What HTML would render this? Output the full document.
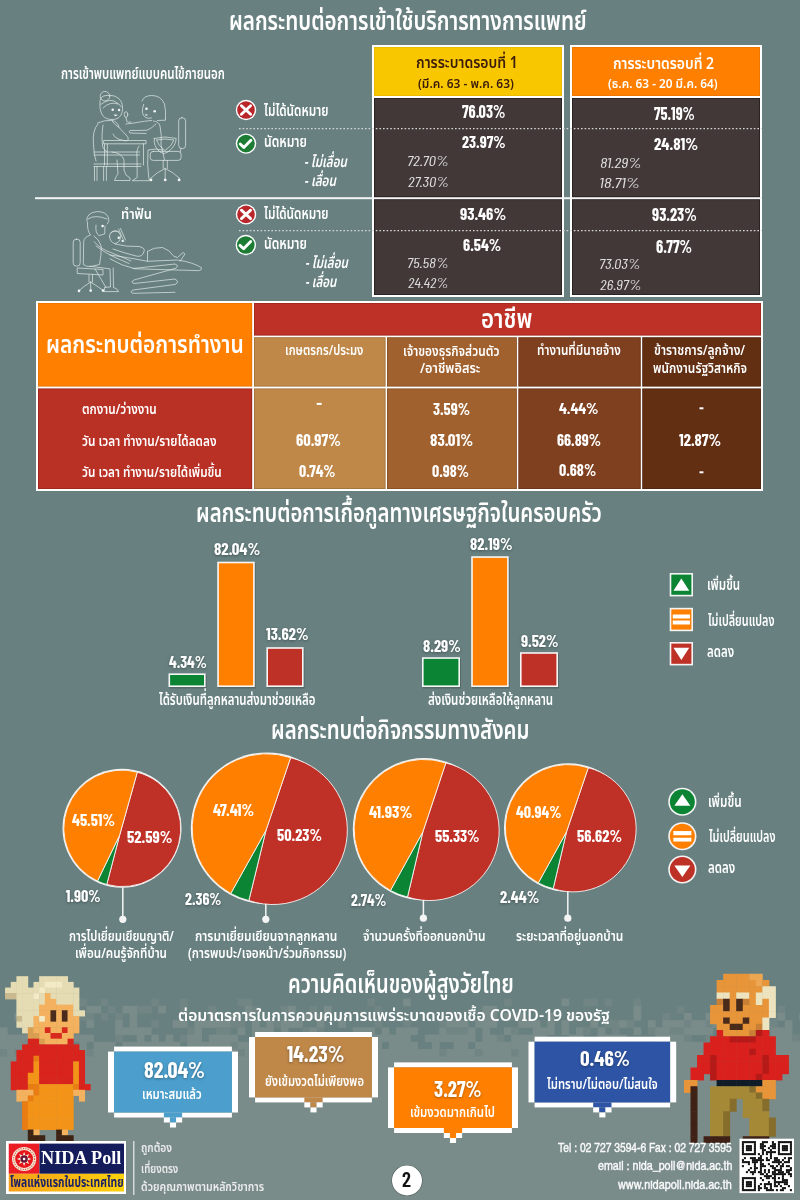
<!DOCTYPE html>
<html lang="th"><head><meta charset="utf-8"><title>ผลกระทบ COVID-19 ต่อผู้สูงวัยไทย</title>
<style>
html,body{margin:0;padding:0}
body{width:800px;height:1200px;overflow:hidden;position:relative;background:#688080}
.t{position:absolute;white-space:nowrap;line-height:1;transform-origin:0 0}
.th{font-family:'Noto Sans Thai','Noto Sans Thai UI',sans-serif}
.thi{font-family:'Noto Sans Thai','Noto Sans Thai UI',sans-serif;font-style:italic}
.num{font-family:'Barlow Condensed','Noto Sans Thai','Liberation Sans Narrow',sans-serif}
.numi{font-family:'Barlow Condensed','Noto Sans Thai','Liberation Sans Narrow',sans-serif;font-style:italic}
.lat{font-family:'TeX Gyre Heros Cn','Roboto Condensed','Liberation Sans Narrow','Liberation Sans',Arial,sans-serif;-webkit-text-stroke:0.3px #fafafa}
.ser{font-family:'Liberation Serif','DejaVu Serif',serif}
.sh{text-shadow:0 1px 3px rgba(0,0,0,.35)}
</style></head>
<body>
<svg width="800" height="1200" viewBox="0 0 800 1200" style="position:absolute;left:0;top:0"><rect x="0.00" y="0.00" width="800.00" height="1200.00" fill="#688080" />
<rect x="0.00" y="1055.00" width="800.00" height="145.00" fill="#7a8c8a" />
<rect x="21.60" y="998.60" width="7.60" height="7.60" fill="#718684" />
<rect x="43.20" y="998.60" width="7.60" height="7.60" fill="#718684" />
<rect x="57.60" y="998.60" width="7.60" height="7.60" fill="#7a8c8a" />
<rect x="72.00" y="998.60" width="7.60" height="7.60" fill="#718684" />
<rect x="79.20" y="998.60" width="7.60" height="7.60" fill="#718684" />
<rect x="100.80" y="998.60" width="7.60" height="7.60" fill="#718684" />
<rect x="151.20" y="998.60" width="7.60" height="7.60" fill="#718684" />
<rect x="180.00" y="998.60" width="7.60" height="7.60" fill="#718684" />
<rect x="237.60" y="998.60" width="7.60" height="7.60" fill="#718684" />
<rect x="244.80" y="998.60" width="7.60" height="7.60" fill="#718684" />
<rect x="367.20" y="998.60" width="7.60" height="7.60" fill="#718684" />
<rect x="403.20" y="998.60" width="7.60" height="7.60" fill="#7a8c8a" />
<rect x="504.00" y="998.60" width="7.60" height="7.60" fill="#718684" />
<rect x="561.60" y="998.60" width="7.60" height="7.60" fill="#7a8c8a" />
<rect x="583.20" y="998.60" width="7.60" height="7.60" fill="#718684" />
<rect x="590.40" y="998.60" width="7.60" height="7.60" fill="#718684" />
<rect x="604.80" y="998.60" width="7.60" height="7.60" fill="#718684" />
<rect x="633.60" y="998.60" width="7.60" height="7.60" fill="#718684" />
<rect x="763.20" y="998.60" width="7.60" height="7.60" fill="#7a8c8a" />
<rect x="21.60" y="1005.80" width="7.60" height="7.60" fill="#7a8c8a" />
<rect x="72.00" y="1005.80" width="7.60" height="7.60" fill="#718684" />
<rect x="86.40" y="1005.80" width="7.60" height="7.60" fill="#7a8c8a" />
<rect x="93.60" y="1005.80" width="7.60" height="7.60" fill="#7a8c8a" />
<rect x="108.00" y="1005.80" width="7.60" height="7.60" fill="#718684" />
<rect x="122.40" y="1005.80" width="7.60" height="7.60" fill="#7a8c8a" />
<rect x="129.60" y="1005.80" width="7.60" height="7.60" fill="#7a8c8a" />
<rect x="136.80" y="1005.80" width="7.60" height="7.60" fill="#718684" />
<rect x="144.00" y="1005.80" width="7.60" height="7.60" fill="#718684" />
<rect x="158.40" y="1005.80" width="7.60" height="7.60" fill="#7a8c8a" />
<rect x="180.00" y="1005.80" width="7.60" height="7.60" fill="#718684" />
<rect x="208.80" y="1005.80" width="7.60" height="7.60" fill="#718684" />
<rect x="244.80" y="1005.80" width="7.60" height="7.60" fill="#7a8c8a" />
<rect x="252.00" y="1005.80" width="7.60" height="7.60" fill="#718684" />
<rect x="280.80" y="1005.80" width="7.60" height="7.60" fill="#718684" />
<rect x="288.00" y="1005.80" width="7.60" height="7.60" fill="#7a8c8a" />
<rect x="309.60" y="1005.80" width="7.60" height="7.60" fill="#718684" />
<rect x="324.00" y="1005.80" width="7.60" height="7.60" fill="#7a8c8a" />
<rect x="374.40" y="1005.80" width="7.60" height="7.60" fill="#718684" />
<rect x="482.40" y="1005.80" width="7.60" height="7.60" fill="#7a8c8a" />
<rect x="489.60" y="1005.80" width="7.60" height="7.60" fill="#7a8c8a" />
<rect x="633.60" y="1005.80" width="7.60" height="7.60" fill="#7a8c8a" />
<rect x="676.80" y="1005.80" width="7.60" height="7.60" fill="#718684" />
<rect x="741.60" y="1005.80" width="7.60" height="7.60" fill="#718684" />
<rect x="748.80" y="1005.80" width="7.60" height="7.60" fill="#718684" />
<rect x="756.00" y="1005.80" width="7.60" height="7.60" fill="#718684" />
<rect x="777.60" y="1005.80" width="7.60" height="7.60" fill="#718684" />
<rect x="14.40" y="1013.00" width="7.60" height="7.60" fill="#7a8c8a" />
<rect x="21.60" y="1013.00" width="7.60" height="7.60" fill="#7a8c8a" />
<rect x="79.20" y="1013.00" width="7.60" height="7.60" fill="#718684" />
<rect x="86.40" y="1013.00" width="7.60" height="7.60" fill="#718684" />
<rect x="100.80" y="1013.00" width="7.60" height="7.60" fill="#718684" />
<rect x="115.20" y="1013.00" width="7.60" height="7.60" fill="#718684" />
<rect x="129.60" y="1013.00" width="7.60" height="7.60" fill="#7a8c8a" />
<rect x="208.80" y="1013.00" width="7.60" height="7.60" fill="#7a8c8a" />
<rect x="223.20" y="1013.00" width="7.60" height="7.60" fill="#718684" />
<rect x="230.40" y="1013.00" width="7.60" height="7.60" fill="#7a8c8a" />
<rect x="244.80" y="1013.00" width="7.60" height="7.60" fill="#718684" />
<rect x="302.40" y="1013.00" width="7.60" height="7.60" fill="#7a8c8a" />
<rect x="316.80" y="1013.00" width="7.60" height="7.60" fill="#718684" />
<rect x="453.60" y="1013.00" width="7.60" height="7.60" fill="#718684" />
<rect x="482.40" y="1013.00" width="7.60" height="7.60" fill="#7a8c8a" />
<rect x="489.60" y="1013.00" width="7.60" height="7.60" fill="#7a8c8a" />
<rect x="504.00" y="1013.00" width="7.60" height="7.60" fill="#7a8c8a" />
<rect x="511.20" y="1013.00" width="7.60" height="7.60" fill="#718684" />
<rect x="518.40" y="1013.00" width="7.60" height="7.60" fill="#7a8c8a" />
<rect x="547.20" y="1013.00" width="7.60" height="7.60" fill="#7a8c8a" />
<rect x="568.80" y="1013.00" width="7.60" height="7.60" fill="#7a8c8a" />
<rect x="590.40" y="1013.00" width="7.60" height="7.60" fill="#718684" />
<rect x="633.60" y="1013.00" width="7.60" height="7.60" fill="#7a8c8a" />
<rect x="662.40" y="1013.00" width="7.60" height="7.60" fill="#718684" />
<rect x="684.00" y="1013.00" width="7.60" height="7.60" fill="#7a8c8a" />
<rect x="705.60" y="1013.00" width="7.60" height="7.60" fill="#7a8c8a" />
<rect x="734.40" y="1013.00" width="7.60" height="7.60" fill="#7a8c8a" />
<rect x="763.20" y="1013.00" width="7.60" height="7.60" fill="#7a8c8a" />
<rect x="770.40" y="1013.00" width="7.60" height="7.60" fill="#718684" />
<rect x="777.60" y="1013.00" width="7.60" height="7.60" fill="#7a8c8a" />
<rect x="799.20" y="1013.00" width="7.60" height="7.60" fill="#7a8c8a" />
<rect x="21.60" y="1020.20" width="7.60" height="7.60" fill="#7a8c8a" />
<rect x="28.80" y="1020.20" width="7.60" height="7.60" fill="#7a8c8a" />
<rect x="57.60" y="1020.20" width="7.60" height="7.60" fill="#7a8c8a" />
<rect x="64.80" y="1020.20" width="7.60" height="7.60" fill="#7a8c8a" />
<rect x="86.40" y="1020.20" width="7.60" height="7.60" fill="#7a8c8a" />
<rect x="115.20" y="1020.20" width="7.60" height="7.60" fill="#7a8c8a" />
<rect x="129.60" y="1020.20" width="7.60" height="7.60" fill="#7a8c8a" />
<rect x="151.20" y="1020.20" width="7.60" height="7.60" fill="#718684" />
<rect x="172.80" y="1020.20" width="7.60" height="7.60" fill="#7a8c8a" />
<rect x="180.00" y="1020.20" width="7.60" height="7.60" fill="#7a8c8a" />
<rect x="194.40" y="1020.20" width="7.60" height="7.60" fill="#7a8c8a" />
<rect x="201.60" y="1020.20" width="7.60" height="7.60" fill="#7a8c8a" />
<rect x="208.80" y="1020.20" width="7.60" height="7.60" fill="#7a8c8a" />
<rect x="216.00" y="1020.20" width="7.60" height="7.60" fill="#7a8c8a" />
<rect x="223.20" y="1020.20" width="7.60" height="7.60" fill="#7a8c8a" />
<rect x="230.40" y="1020.20" width="7.60" height="7.60" fill="#718684" />
<rect x="237.60" y="1020.20" width="7.60" height="7.60" fill="#718684" />
<rect x="252.00" y="1020.20" width="7.60" height="7.60" fill="#7a8c8a" />
<rect x="266.40" y="1020.20" width="7.60" height="7.60" fill="#7a8c8a" />
<rect x="273.60" y="1020.20" width="7.60" height="7.60" fill="#718684" />
<rect x="280.80" y="1020.20" width="7.60" height="7.60" fill="#7a8c8a" />
<rect x="288.00" y="1020.20" width="7.60" height="7.60" fill="#7a8c8a" />
<rect x="295.20" y="1020.20" width="7.60" height="7.60" fill="#7a8c8a" />
<rect x="316.80" y="1020.20" width="7.60" height="7.60" fill="#7a8c8a" />
<rect x="338.40" y="1020.20" width="7.60" height="7.60" fill="#7a8c8a" />
<rect x="374.40" y="1020.20" width="7.60" height="7.60" fill="#718684" />
<rect x="403.20" y="1020.20" width="7.60" height="7.60" fill="#718684" />
<rect x="439.20" y="1020.20" width="7.60" height="7.60" fill="#718684" />
<rect x="446.40" y="1020.20" width="7.60" height="7.60" fill="#7a8c8a" />
<rect x="453.60" y="1020.20" width="7.60" height="7.60" fill="#7a8c8a" />
<rect x="460.80" y="1020.20" width="7.60" height="7.60" fill="#7a8c8a" />
<rect x="475.20" y="1020.20" width="7.60" height="7.60" fill="#7a8c8a" />
<rect x="482.40" y="1020.20" width="7.60" height="7.60" fill="#7a8c8a" />
<rect x="489.60" y="1020.20" width="7.60" height="7.60" fill="#7a8c8a" />
<rect x="518.40" y="1020.20" width="7.60" height="7.60" fill="#7a8c8a" />
<rect x="525.60" y="1020.20" width="7.60" height="7.60" fill="#7a8c8a" />
<rect x="532.80" y="1020.20" width="7.60" height="7.60" fill="#7a8c8a" />
<rect x="547.20" y="1020.20" width="7.60" height="7.60" fill="#7a8c8a" />
<rect x="561.60" y="1020.20" width="7.60" height="7.60" fill="#7a8c8a" />
<rect x="590.40" y="1020.20" width="7.60" height="7.60" fill="#7a8c8a" />
<rect x="604.80" y="1020.20" width="7.60" height="7.60" fill="#718684" />
<rect x="612.00" y="1020.20" width="7.60" height="7.60" fill="#718684" />
<rect x="619.20" y="1020.20" width="7.60" height="7.60" fill="#7a8c8a" />
<rect x="626.40" y="1020.20" width="7.60" height="7.60" fill="#718684" />
<rect x="648.00" y="1020.20" width="7.60" height="7.60" fill="#7a8c8a" />
<rect x="662.40" y="1020.20" width="7.60" height="7.60" fill="#7a8c8a" />
<rect x="669.60" y="1020.20" width="7.60" height="7.60" fill="#7a8c8a" />
<rect x="676.80" y="1020.20" width="7.60" height="7.60" fill="#7a8c8a" />
<rect x="684.00" y="1020.20" width="7.60" height="7.60" fill="#718684" />
<rect x="691.20" y="1020.20" width="7.60" height="7.60" fill="#7a8c8a" />
<rect x="698.40" y="1020.20" width="7.60" height="7.60" fill="#7a8c8a" />
<rect x="705.60" y="1020.20" width="7.60" height="7.60" fill="#718684" />
<rect x="712.80" y="1020.20" width="7.60" height="7.60" fill="#7a8c8a" />
<rect x="763.20" y="1020.20" width="7.60" height="7.60" fill="#718684" />
<rect x="770.40" y="1020.20" width="7.60" height="7.60" fill="#718684" />
<rect x="784.80" y="1020.20" width="7.60" height="7.60" fill="#7a8c8a" />
<rect x="0.00" y="1027.40" width="7.60" height="7.60" fill="#7a8c8a" />
<rect x="43.20" y="1027.40" width="7.60" height="7.60" fill="#7a8c8a" />
<rect x="50.40" y="1027.40" width="7.60" height="7.60" fill="#718684" />
<rect x="57.60" y="1027.40" width="7.60" height="7.60" fill="#718684" />
<rect x="115.20" y="1027.40" width="7.60" height="7.60" fill="#7a8c8a" />
<rect x="122.40" y="1027.40" width="7.60" height="7.60" fill="#7a8c8a" />
<rect x="129.60" y="1027.40" width="7.60" height="7.60" fill="#7a8c8a" />
<rect x="136.80" y="1027.40" width="7.60" height="7.60" fill="#7a8c8a" />
<rect x="144.00" y="1027.40" width="7.60" height="7.60" fill="#7a8c8a" />
<rect x="187.20" y="1027.40" width="7.60" height="7.60" fill="#718684" />
<rect x="194.40" y="1027.40" width="7.60" height="7.60" fill="#7a8c8a" />
<rect x="216.00" y="1027.40" width="7.60" height="7.60" fill="#718684" />
<rect x="223.20" y="1027.40" width="7.60" height="7.60" fill="#718684" />
<rect x="237.60" y="1027.40" width="7.60" height="7.60" fill="#7a8c8a" />
<rect x="252.00" y="1027.40" width="7.60" height="7.60" fill="#7a8c8a" />
<rect x="259.20" y="1027.40" width="7.60" height="7.60" fill="#7a8c8a" />
<rect x="266.40" y="1027.40" width="7.60" height="7.60" fill="#7a8c8a" />
<rect x="280.80" y="1027.40" width="7.60" height="7.60" fill="#7a8c8a" />
<rect x="302.40" y="1027.40" width="7.60" height="7.60" fill="#718684" />
<rect x="309.60" y="1027.40" width="7.60" height="7.60" fill="#7a8c8a" />
<rect x="316.80" y="1027.40" width="7.60" height="7.60" fill="#718684" />
<rect x="352.80" y="1027.40" width="7.60" height="7.60" fill="#7a8c8a" />
<rect x="360.00" y="1027.40" width="7.60" height="7.60" fill="#7a8c8a" />
<rect x="367.20" y="1027.40" width="7.60" height="7.60" fill="#7a8c8a" />
<rect x="381.60" y="1027.40" width="7.60" height="7.60" fill="#7a8c8a" />
<rect x="396.00" y="1027.40" width="7.60" height="7.60" fill="#7a8c8a" />
<rect x="403.20" y="1027.40" width="7.60" height="7.60" fill="#7a8c8a" />
<rect x="410.40" y="1027.40" width="7.60" height="7.60" fill="#7a8c8a" />
<rect x="439.20" y="1027.40" width="7.60" height="7.60" fill="#7a8c8a" />
<rect x="446.40" y="1027.40" width="7.60" height="7.60" fill="#718684" />
<rect x="453.60" y="1027.40" width="7.60" height="7.60" fill="#718684" />
<rect x="460.80" y="1027.40" width="7.60" height="7.60" fill="#718684" />
<rect x="468.00" y="1027.40" width="7.60" height="7.60" fill="#7a8c8a" />
<rect x="482.40" y="1027.40" width="7.60" height="7.60" fill="#7a8c8a" />
<rect x="504.00" y="1027.40" width="7.60" height="7.60" fill="#7a8c8a" />
<rect x="511.20" y="1027.40" width="7.60" height="7.60" fill="#718684" />
<rect x="532.80" y="1027.40" width="7.60" height="7.60" fill="#7a8c8a" />
<rect x="540.00" y="1027.40" width="7.60" height="7.60" fill="#7a8c8a" />
<rect x="547.20" y="1027.40" width="7.60" height="7.60" fill="#7a8c8a" />
<rect x="561.60" y="1027.40" width="7.60" height="7.60" fill="#7a8c8a" />
<rect x="576.00" y="1027.40" width="7.60" height="7.60" fill="#7a8c8a" />
<rect x="583.20" y="1027.40" width="7.60" height="7.60" fill="#718684" />
<rect x="597.60" y="1027.40" width="7.60" height="7.60" fill="#7a8c8a" />
<rect x="612.00" y="1027.40" width="7.60" height="7.60" fill="#718684" />
<rect x="633.60" y="1027.40" width="7.60" height="7.60" fill="#7a8c8a" />
<rect x="648.00" y="1027.40" width="7.60" height="7.60" fill="#718684" />
<rect x="655.20" y="1027.40" width="7.60" height="7.60" fill="#7a8c8a" />
<rect x="662.40" y="1027.40" width="7.60" height="7.60" fill="#7a8c8a" />
<rect x="669.60" y="1027.40" width="7.60" height="7.60" fill="#718684" />
<rect x="676.80" y="1027.40" width="7.60" height="7.60" fill="#718684" />
<rect x="684.00" y="1027.40" width="7.60" height="7.60" fill="#7a8c8a" />
<rect x="691.20" y="1027.40" width="7.60" height="7.60" fill="#7a8c8a" />
<rect x="698.40" y="1027.40" width="7.60" height="7.60" fill="#7a8c8a" />
<rect x="705.60" y="1027.40" width="7.60" height="7.60" fill="#7a8c8a" />
<rect x="720.00" y="1027.40" width="7.60" height="7.60" fill="#7a8c8a" />
<rect x="741.60" y="1027.40" width="7.60" height="7.60" fill="#7a8c8a" />
<rect x="770.40" y="1027.40" width="7.60" height="7.60" fill="#7a8c8a" />
<rect x="777.60" y="1027.40" width="7.60" height="7.60" fill="#7a8c8a" />
<rect x="784.80" y="1027.40" width="7.60" height="7.60" fill="#7a8c8a" />
<rect x="0.00" y="1034.60" width="7.60" height="7.60" fill="#7a8c8a" />
<rect x="7.20" y="1034.60" width="7.60" height="7.60" fill="#7a8c8a" />
<rect x="14.40" y="1034.60" width="7.60" height="7.60" fill="#7a8c8a" />
<rect x="21.60" y="1034.60" width="7.60" height="7.60" fill="#7a8c8a" />
<rect x="28.80" y="1034.60" width="7.60" height="7.60" fill="#7a8c8a" />
<rect x="43.20" y="1034.60" width="7.60" height="7.60" fill="#7a8c8a" />
<rect x="57.60" y="1034.60" width="7.60" height="7.60" fill="#7a8c8a" />
<rect x="64.80" y="1034.60" width="7.60" height="7.60" fill="#7a8c8a" />
<rect x="72.00" y="1034.60" width="7.60" height="7.60" fill="#7a8c8a" />
<rect x="79.20" y="1034.60" width="7.60" height="7.60" fill="#7a8c8a" />
<rect x="86.40" y="1034.60" width="7.60" height="7.60" fill="#7a8c8a" />
<rect x="115.20" y="1034.60" width="7.60" height="7.60" fill="#718684" />
<rect x="136.80" y="1034.60" width="7.60" height="7.60" fill="#7a8c8a" />
<rect x="151.20" y="1034.60" width="7.60" height="7.60" fill="#7a8c8a" />
<rect x="165.60" y="1034.60" width="7.60" height="7.60" fill="#7a8c8a" />
<rect x="180.00" y="1034.60" width="7.60" height="7.60" fill="#718684" />
<rect x="187.20" y="1034.60" width="7.60" height="7.60" fill="#7a8c8a" />
<rect x="194.40" y="1034.60" width="7.60" height="7.60" fill="#7a8c8a" />
<rect x="208.80" y="1034.60" width="7.60" height="7.60" fill="#7a8c8a" />
<rect x="216.00" y="1034.60" width="7.60" height="7.60" fill="#7a8c8a" />
<rect x="223.20" y="1034.60" width="7.60" height="7.60" fill="#7a8c8a" />
<rect x="230.40" y="1034.60" width="7.60" height="7.60" fill="#7a8c8a" />
<rect x="252.00" y="1034.60" width="7.60" height="7.60" fill="#7a8c8a" />
<rect x="259.20" y="1034.60" width="7.60" height="7.60" fill="#718684" />
<rect x="266.40" y="1034.60" width="7.60" height="7.60" fill="#7a8c8a" />
<rect x="273.60" y="1034.60" width="7.60" height="7.60" fill="#7a8c8a" />
<rect x="280.80" y="1034.60" width="7.60" height="7.60" fill="#7a8c8a" />
<rect x="288.00" y="1034.60" width="7.60" height="7.60" fill="#7a8c8a" />
<rect x="295.20" y="1034.60" width="7.60" height="7.60" fill="#7a8c8a" />
<rect x="302.40" y="1034.60" width="7.60" height="7.60" fill="#7a8c8a" />
<rect x="316.80" y="1034.60" width="7.60" height="7.60" fill="#7a8c8a" />
<rect x="324.00" y="1034.60" width="7.60" height="7.60" fill="#7a8c8a" />
<rect x="345.60" y="1034.60" width="7.60" height="7.60" fill="#7a8c8a" />
<rect x="352.80" y="1034.60" width="7.60" height="7.60" fill="#7a8c8a" />
<rect x="360.00" y="1034.60" width="7.60" height="7.60" fill="#7a8c8a" />
<rect x="367.20" y="1034.60" width="7.60" height="7.60" fill="#7a8c8a" />
<rect x="374.40" y="1034.60" width="7.60" height="7.60" fill="#7a8c8a" />
<rect x="381.60" y="1034.60" width="7.60" height="7.60" fill="#7a8c8a" />
<rect x="388.80" y="1034.60" width="7.60" height="7.60" fill="#7a8c8a" />
<rect x="396.00" y="1034.60" width="7.60" height="7.60" fill="#7a8c8a" />
<rect x="403.20" y="1034.60" width="7.60" height="7.60" fill="#7a8c8a" />
<rect x="424.80" y="1034.60" width="7.60" height="7.60" fill="#7a8c8a" />
<rect x="432.00" y="1034.60" width="7.60" height="7.60" fill="#7a8c8a" />
<rect x="439.20" y="1034.60" width="7.60" height="7.60" fill="#7a8c8a" />
<rect x="446.40" y="1034.60" width="7.60" height="7.60" fill="#7a8c8a" />
<rect x="453.60" y="1034.60" width="7.60" height="7.60" fill="#7a8c8a" />
<rect x="460.80" y="1034.60" width="7.60" height="7.60" fill="#7a8c8a" />
<rect x="468.00" y="1034.60" width="7.60" height="7.60" fill="#7a8c8a" />
<rect x="482.40" y="1034.60" width="7.60" height="7.60" fill="#7a8c8a" />
<rect x="489.60" y="1034.60" width="7.60" height="7.60" fill="#7a8c8a" />
<rect x="496.80" y="1034.60" width="7.60" height="7.60" fill="#718684" />
<rect x="511.20" y="1034.60" width="7.60" height="7.60" fill="#7a8c8a" />
<rect x="518.40" y="1034.60" width="7.60" height="7.60" fill="#7a8c8a" />
<rect x="525.60" y="1034.60" width="7.60" height="7.60" fill="#7a8c8a" />
<rect x="532.80" y="1034.60" width="7.60" height="7.60" fill="#7a8c8a" />
<rect x="540.00" y="1034.60" width="7.60" height="7.60" fill="#7a8c8a" />
<rect x="568.80" y="1034.60" width="7.60" height="7.60" fill="#7a8c8a" />
<rect x="576.00" y="1034.60" width="7.60" height="7.60" fill="#7a8c8a" />
<rect x="597.60" y="1034.60" width="7.60" height="7.60" fill="#7a8c8a" />
<rect x="604.80" y="1034.60" width="7.60" height="7.60" fill="#7a8c8a" />
<rect x="612.00" y="1034.60" width="7.60" height="7.60" fill="#7a8c8a" />
<rect x="619.20" y="1034.60" width="7.60" height="7.60" fill="#7a8c8a" />
<rect x="655.20" y="1034.60" width="7.60" height="7.60" fill="#7a8c8a" />
<rect x="662.40" y="1034.60" width="7.60" height="7.60" fill="#7a8c8a" />
<rect x="669.60" y="1034.60" width="7.60" height="7.60" fill="#7a8c8a" />
<rect x="676.80" y="1034.60" width="7.60" height="7.60" fill="#7a8c8a" />
<rect x="684.00" y="1034.60" width="7.60" height="7.60" fill="#718684" />
<rect x="705.60" y="1034.60" width="7.60" height="7.60" fill="#718684" />
<rect x="720.00" y="1034.60" width="7.60" height="7.60" fill="#7a8c8a" />
<rect x="727.20" y="1034.60" width="7.60" height="7.60" fill="#7a8c8a" />
<rect x="734.40" y="1034.60" width="7.60" height="7.60" fill="#7a8c8a" />
<rect x="748.80" y="1034.60" width="7.60" height="7.60" fill="#7a8c8a" />
<rect x="763.20" y="1034.60" width="7.60" height="7.60" fill="#718684" />
<rect x="770.40" y="1034.60" width="7.60" height="7.60" fill="#7a8c8a" />
<rect x="777.60" y="1034.60" width="7.60" height="7.60" fill="#7a8c8a" />
<rect x="784.80" y="1034.60" width="7.60" height="7.60" fill="#7a8c8a" />
<rect x="792.00" y="1034.60" width="7.60" height="7.60" fill="#718684" />
<rect x="799.20" y="1034.60" width="7.60" height="7.60" fill="#718684" />
<rect x="0.00" y="1041.80" width="7.60" height="7.60" fill="#7a8c8a" />
<rect x="7.20" y="1041.80" width="7.60" height="7.60" fill="#7a8c8a" />
<rect x="14.40" y="1041.80" width="7.60" height="7.60" fill="#7a8c8a" />
<rect x="21.60" y="1041.80" width="7.60" height="7.60" fill="#7a8c8a" />
<rect x="28.80" y="1041.80" width="7.60" height="7.60" fill="#7a8c8a" />
<rect x="36.00" y="1041.80" width="7.60" height="7.60" fill="#7a8c8a" />
<rect x="43.20" y="1041.80" width="7.60" height="7.60" fill="#7a8c8a" />
<rect x="50.40" y="1041.80" width="7.60" height="7.60" fill="#7a8c8a" />
<rect x="57.60" y="1041.80" width="7.60" height="7.60" fill="#7a8c8a" />
<rect x="64.80" y="1041.80" width="7.60" height="7.60" fill="#7a8c8a" />
<rect x="79.20" y="1041.80" width="7.60" height="7.60" fill="#7a8c8a" />
<rect x="93.60" y="1041.80" width="7.60" height="7.60" fill="#7a8c8a" />
<rect x="100.80" y="1041.80" width="7.60" height="7.60" fill="#7a8c8a" />
<rect x="108.00" y="1041.80" width="7.60" height="7.60" fill="#7a8c8a" />
<rect x="122.40" y="1041.80" width="7.60" height="7.60" fill="#7a8c8a" />
<rect x="129.60" y="1041.80" width="7.60" height="7.60" fill="#7a8c8a" />
<rect x="136.80" y="1041.80" width="7.60" height="7.60" fill="#7a8c8a" />
<rect x="144.00" y="1041.80" width="7.60" height="7.60" fill="#7a8c8a" />
<rect x="151.20" y="1041.80" width="7.60" height="7.60" fill="#7a8c8a" />
<rect x="158.40" y="1041.80" width="7.60" height="7.60" fill="#7a8c8a" />
<rect x="165.60" y="1041.80" width="7.60" height="7.60" fill="#7a8c8a" />
<rect x="172.80" y="1041.80" width="7.60" height="7.60" fill="#7a8c8a" />
<rect x="187.20" y="1041.80" width="7.60" height="7.60" fill="#7a8c8a" />
<rect x="194.40" y="1041.80" width="7.60" height="7.60" fill="#7a8c8a" />
<rect x="201.60" y="1041.80" width="7.60" height="7.60" fill="#7a8c8a" />
<rect x="208.80" y="1041.80" width="7.60" height="7.60" fill="#7a8c8a" />
<rect x="216.00" y="1041.80" width="7.60" height="7.60" fill="#7a8c8a" />
<rect x="223.20" y="1041.80" width="7.60" height="7.60" fill="#7a8c8a" />
<rect x="230.40" y="1041.80" width="7.60" height="7.60" fill="#718684" />
<rect x="237.60" y="1041.80" width="7.60" height="7.60" fill="#7a8c8a" />
<rect x="244.80" y="1041.80" width="7.60" height="7.60" fill="#7a8c8a" />
<rect x="252.00" y="1041.80" width="7.60" height="7.60" fill="#7a8c8a" />
<rect x="266.40" y="1041.80" width="7.60" height="7.60" fill="#7a8c8a" />
<rect x="273.60" y="1041.80" width="7.60" height="7.60" fill="#718684" />
<rect x="280.80" y="1041.80" width="7.60" height="7.60" fill="#7a8c8a" />
<rect x="288.00" y="1041.80" width="7.60" height="7.60" fill="#7a8c8a" />
<rect x="295.20" y="1041.80" width="7.60" height="7.60" fill="#7a8c8a" />
<rect x="302.40" y="1041.80" width="7.60" height="7.60" fill="#7a8c8a" />
<rect x="316.80" y="1041.80" width="7.60" height="7.60" fill="#7a8c8a" />
<rect x="324.00" y="1041.80" width="7.60" height="7.60" fill="#7a8c8a" />
<rect x="331.20" y="1041.80" width="7.60" height="7.60" fill="#7a8c8a" />
<rect x="338.40" y="1041.80" width="7.60" height="7.60" fill="#7a8c8a" />
<rect x="345.60" y="1041.80" width="7.60" height="7.60" fill="#7a8c8a" />
<rect x="360.00" y="1041.80" width="7.60" height="7.60" fill="#7a8c8a" />
<rect x="367.20" y="1041.80" width="7.60" height="7.60" fill="#7a8c8a" />
<rect x="374.40" y="1041.80" width="7.60" height="7.60" fill="#7a8c8a" />
<rect x="388.80" y="1041.80" width="7.60" height="7.60" fill="#7a8c8a" />
<rect x="396.00" y="1041.80" width="7.60" height="7.60" fill="#7a8c8a" />
<rect x="403.20" y="1041.80" width="7.60" height="7.60" fill="#7a8c8a" />
<rect x="410.40" y="1041.80" width="7.60" height="7.60" fill="#7a8c8a" />
<rect x="432.00" y="1041.80" width="7.60" height="7.60" fill="#7a8c8a" />
<rect x="453.60" y="1041.80" width="7.60" height="7.60" fill="#7a8c8a" />
<rect x="460.80" y="1041.80" width="7.60" height="7.60" fill="#7a8c8a" />
<rect x="475.20" y="1041.80" width="7.60" height="7.60" fill="#7a8c8a" />
<rect x="482.40" y="1041.80" width="7.60" height="7.60" fill="#7a8c8a" />
<rect x="489.60" y="1041.80" width="7.60" height="7.60" fill="#7a8c8a" />
<rect x="496.80" y="1041.80" width="7.60" height="7.60" fill="#7a8c8a" />
<rect x="504.00" y="1041.80" width="7.60" height="7.60" fill="#7a8c8a" />
<rect x="511.20" y="1041.80" width="7.60" height="7.60" fill="#7a8c8a" />
<rect x="518.40" y="1041.80" width="7.60" height="7.60" fill="#7a8c8a" />
<rect x="525.60" y="1041.80" width="7.60" height="7.60" fill="#7a8c8a" />
<rect x="532.80" y="1041.80" width="7.60" height="7.60" fill="#7a8c8a" />
<rect x="540.00" y="1041.80" width="7.60" height="7.60" fill="#7a8c8a" />
<rect x="554.40" y="1041.80" width="7.60" height="7.60" fill="#7a8c8a" />
<rect x="568.80" y="1041.80" width="7.60" height="7.60" fill="#7a8c8a" />
<rect x="576.00" y="1041.80" width="7.60" height="7.60" fill="#7a8c8a" />
<rect x="583.20" y="1041.80" width="7.60" height="7.60" fill="#718684" />
<rect x="590.40" y="1041.80" width="7.60" height="7.60" fill="#718684" />
<rect x="597.60" y="1041.80" width="7.60" height="7.60" fill="#7a8c8a" />
<rect x="604.80" y="1041.80" width="7.60" height="7.60" fill="#7a8c8a" />
<rect x="612.00" y="1041.80" width="7.60" height="7.60" fill="#7a8c8a" />
<rect x="619.20" y="1041.80" width="7.60" height="7.60" fill="#7a8c8a" />
<rect x="633.60" y="1041.80" width="7.60" height="7.60" fill="#7a8c8a" />
<rect x="640.80" y="1041.80" width="7.60" height="7.60" fill="#7a8c8a" />
<rect x="655.20" y="1041.80" width="7.60" height="7.60" fill="#7a8c8a" />
<rect x="662.40" y="1041.80" width="7.60" height="7.60" fill="#7a8c8a" />
<rect x="669.60" y="1041.80" width="7.60" height="7.60" fill="#718684" />
<rect x="676.80" y="1041.80" width="7.60" height="7.60" fill="#7a8c8a" />
<rect x="684.00" y="1041.80" width="7.60" height="7.60" fill="#7a8c8a" />
<rect x="691.20" y="1041.80" width="7.60" height="7.60" fill="#7a8c8a" />
<rect x="698.40" y="1041.80" width="7.60" height="7.60" fill="#7a8c8a" />
<rect x="712.80" y="1041.80" width="7.60" height="7.60" fill="#7a8c8a" />
<rect x="720.00" y="1041.80" width="7.60" height="7.60" fill="#7a8c8a" />
<rect x="734.40" y="1041.80" width="7.60" height="7.60" fill="#7a8c8a" />
<rect x="741.60" y="1041.80" width="7.60" height="7.60" fill="#7a8c8a" />
<rect x="756.00" y="1041.80" width="7.60" height="7.60" fill="#7a8c8a" />
<rect x="763.20" y="1041.80" width="7.60" height="7.60" fill="#7a8c8a" />
<rect x="770.40" y="1041.80" width="7.60" height="7.60" fill="#7a8c8a" />
<rect x="777.60" y="1041.80" width="7.60" height="7.60" fill="#7a8c8a" />
<rect x="784.80" y="1041.80" width="7.60" height="7.60" fill="#7a8c8a" />
<rect x="792.00" y="1041.80" width="7.60" height="7.60" fill="#7a8c8a" />
<rect x="799.20" y="1041.80" width="7.60" height="7.60" fill="#7a8c8a" />
<rect x="0.00" y="1049.00" width="7.60" height="7.60" fill="#718684" />
<rect x="7.20" y="1049.00" width="7.60" height="7.60" fill="#7a8c8a" />
<rect x="14.40" y="1049.00" width="7.60" height="7.60" fill="#718684" />
<rect x="21.60" y="1049.00" width="7.60" height="7.60" fill="#7a8c8a" />
<rect x="28.80" y="1049.00" width="7.60" height="7.60" fill="#7a8c8a" />
<rect x="36.00" y="1049.00" width="7.60" height="7.60" fill="#7a8c8a" />
<rect x="43.20" y="1049.00" width="7.60" height="7.60" fill="#718684" />
<rect x="50.40" y="1049.00" width="7.60" height="7.60" fill="#718684" />
<rect x="57.60" y="1049.00" width="7.60" height="7.60" fill="#7a8c8a" />
<rect x="64.80" y="1049.00" width="7.60" height="7.60" fill="#7a8c8a" />
<rect x="72.00" y="1049.00" width="7.60" height="7.60" fill="#7a8c8a" />
<rect x="79.20" y="1049.00" width="7.60" height="7.60" fill="#7a8c8a" />
<rect x="86.40" y="1049.00" width="7.60" height="7.60" fill="#718684" />
<rect x="93.60" y="1049.00" width="7.60" height="7.60" fill="#7a8c8a" />
<rect x="100.80" y="1049.00" width="7.60" height="7.60" fill="#7a8c8a" />
<rect x="108.00" y="1049.00" width="7.60" height="7.60" fill="#7a8c8a" />
<rect x="115.20" y="1049.00" width="7.60" height="7.60" fill="#7a8c8a" />
<rect x="122.40" y="1049.00" width="7.60" height="7.60" fill="#7a8c8a" />
<rect x="129.60" y="1049.00" width="7.60" height="7.60" fill="#7a8c8a" />
<rect x="136.80" y="1049.00" width="7.60" height="7.60" fill="#7a8c8a" />
<rect x="144.00" y="1049.00" width="7.60" height="7.60" fill="#7a8c8a" />
<rect x="151.20" y="1049.00" width="7.60" height="7.60" fill="#7a8c8a" />
<rect x="158.40" y="1049.00" width="7.60" height="7.60" fill="#7a8c8a" />
<rect x="165.60" y="1049.00" width="7.60" height="7.60" fill="#7a8c8a" />
<rect x="172.80" y="1049.00" width="7.60" height="7.60" fill="#7a8c8a" />
<rect x="180.00" y="1049.00" width="7.60" height="7.60" fill="#7a8c8a" />
<rect x="187.20" y="1049.00" width="7.60" height="7.60" fill="#7a8c8a" />
<rect x="194.40" y="1049.00" width="7.60" height="7.60" fill="#7a8c8a" />
<rect x="201.60" y="1049.00" width="7.60" height="7.60" fill="#7a8c8a" />
<rect x="208.80" y="1049.00" width="7.60" height="7.60" fill="#7a8c8a" />
<rect x="216.00" y="1049.00" width="7.60" height="7.60" fill="#7a8c8a" />
<rect x="223.20" y="1049.00" width="7.60" height="7.60" fill="#718684" />
<rect x="230.40" y="1049.00" width="7.60" height="7.60" fill="#7a8c8a" />
<rect x="237.60" y="1049.00" width="7.60" height="7.60" fill="#718684" />
<rect x="244.80" y="1049.00" width="7.60" height="7.60" fill="#7a8c8a" />
<rect x="252.00" y="1049.00" width="7.60" height="7.60" fill="#7a8c8a" />
<rect x="259.20" y="1049.00" width="7.60" height="7.60" fill="#7a8c8a" />
<rect x="266.40" y="1049.00" width="7.60" height="7.60" fill="#7a8c8a" />
<rect x="273.60" y="1049.00" width="7.60" height="7.60" fill="#7a8c8a" />
<rect x="280.80" y="1049.00" width="7.60" height="7.60" fill="#7a8c8a" />
<rect x="288.00" y="1049.00" width="7.60" height="7.60" fill="#7a8c8a" />
<rect x="295.20" y="1049.00" width="7.60" height="7.60" fill="#7a8c8a" />
<rect x="302.40" y="1049.00" width="7.60" height="7.60" fill="#7a8c8a" />
<rect x="309.60" y="1049.00" width="7.60" height="7.60" fill="#7a8c8a" />
<rect x="316.80" y="1049.00" width="7.60" height="7.60" fill="#7a8c8a" />
<rect x="324.00" y="1049.00" width="7.60" height="7.60" fill="#7a8c8a" />
<rect x="331.20" y="1049.00" width="7.60" height="7.60" fill="#7a8c8a" />
<rect x="338.40" y="1049.00" width="7.60" height="7.60" fill="#7a8c8a" />
<rect x="345.60" y="1049.00" width="7.60" height="7.60" fill="#7a8c8a" />
<rect x="352.80" y="1049.00" width="7.60" height="7.60" fill="#7a8c8a" />
<rect x="360.00" y="1049.00" width="7.60" height="7.60" fill="#7a8c8a" />
<rect x="367.20" y="1049.00" width="7.60" height="7.60" fill="#7a8c8a" />
<rect x="374.40" y="1049.00" width="7.60" height="7.60" fill="#7a8c8a" />
<rect x="381.60" y="1049.00" width="7.60" height="7.60" fill="#7a8c8a" />
<rect x="388.80" y="1049.00" width="7.60" height="7.60" fill="#7a8c8a" />
<rect x="396.00" y="1049.00" width="7.60" height="7.60" fill="#7a8c8a" />
<rect x="403.20" y="1049.00" width="7.60" height="7.60" fill="#7a8c8a" />
<rect x="410.40" y="1049.00" width="7.60" height="7.60" fill="#7a8c8a" />
<rect x="417.60" y="1049.00" width="7.60" height="7.60" fill="#7a8c8a" />
<rect x="424.80" y="1049.00" width="7.60" height="7.60" fill="#7a8c8a" />
<rect x="432.00" y="1049.00" width="7.60" height="7.60" fill="#7a8c8a" />
<rect x="439.20" y="1049.00" width="7.60" height="7.60" fill="#718684" />
<rect x="446.40" y="1049.00" width="7.60" height="7.60" fill="#7a8c8a" />
<rect x="453.60" y="1049.00" width="7.60" height="7.60" fill="#7a8c8a" />
<rect x="460.80" y="1049.00" width="7.60" height="7.60" fill="#7a8c8a" />
<rect x="468.00" y="1049.00" width="7.60" height="7.60" fill="#7a8c8a" />
<rect x="475.20" y="1049.00" width="7.60" height="7.60" fill="#718684" />
<rect x="482.40" y="1049.00" width="7.60" height="7.60" fill="#7a8c8a" />
<rect x="489.60" y="1049.00" width="7.60" height="7.60" fill="#7a8c8a" />
<rect x="496.80" y="1049.00" width="7.60" height="7.60" fill="#7a8c8a" />
<rect x="504.00" y="1049.00" width="7.60" height="7.60" fill="#7a8c8a" />
<rect x="511.20" y="1049.00" width="7.60" height="7.60" fill="#718684" />
<rect x="518.40" y="1049.00" width="7.60" height="7.60" fill="#7a8c8a" />
<rect x="525.60" y="1049.00" width="7.60" height="7.60" fill="#7a8c8a" />
<rect x="532.80" y="1049.00" width="7.60" height="7.60" fill="#7a8c8a" />
<rect x="540.00" y="1049.00" width="7.60" height="7.60" fill="#7a8c8a" />
<rect x="547.20" y="1049.00" width="7.60" height="7.60" fill="#718684" />
<rect x="554.40" y="1049.00" width="7.60" height="7.60" fill="#7a8c8a" />
<rect x="561.60" y="1049.00" width="7.60" height="7.60" fill="#718684" />
<rect x="568.80" y="1049.00" width="7.60" height="7.60" fill="#7a8c8a" />
<rect x="576.00" y="1049.00" width="7.60" height="7.60" fill="#7a8c8a" />
<rect x="583.20" y="1049.00" width="7.60" height="7.60" fill="#7a8c8a" />
<rect x="590.40" y="1049.00" width="7.60" height="7.60" fill="#7a8c8a" />
<rect x="597.60" y="1049.00" width="7.60" height="7.60" fill="#7a8c8a" />
<rect x="604.80" y="1049.00" width="7.60" height="7.60" fill="#718684" />
<rect x="612.00" y="1049.00" width="7.60" height="7.60" fill="#7a8c8a" />
<rect x="619.20" y="1049.00" width="7.60" height="7.60" fill="#7a8c8a" />
<rect x="626.40" y="1049.00" width="7.60" height="7.60" fill="#7a8c8a" />
<rect x="633.60" y="1049.00" width="7.60" height="7.60" fill="#7a8c8a" />
<rect x="640.80" y="1049.00" width="7.60" height="7.60" fill="#7a8c8a" />
<rect x="648.00" y="1049.00" width="7.60" height="7.60" fill="#7a8c8a" />
<rect x="655.20" y="1049.00" width="7.60" height="7.60" fill="#7a8c8a" />
<rect x="662.40" y="1049.00" width="7.60" height="7.60" fill="#7a8c8a" />
<rect x="669.60" y="1049.00" width="7.60" height="7.60" fill="#7a8c8a" />
<rect x="676.80" y="1049.00" width="7.60" height="7.60" fill="#7a8c8a" />
<rect x="684.00" y="1049.00" width="7.60" height="7.60" fill="#7a8c8a" />
<rect x="691.20" y="1049.00" width="7.60" height="7.60" fill="#7a8c8a" />
<rect x="698.40" y="1049.00" width="7.60" height="7.60" fill="#7a8c8a" />
<rect x="705.60" y="1049.00" width="7.60" height="7.60" fill="#7a8c8a" />
<rect x="712.80" y="1049.00" width="7.60" height="7.60" fill="#7a8c8a" />
<rect x="720.00" y="1049.00" width="7.60" height="7.60" fill="#7a8c8a" />
<rect x="727.20" y="1049.00" width="7.60" height="7.60" fill="#7a8c8a" />
<rect x="734.40" y="1049.00" width="7.60" height="7.60" fill="#7a8c8a" />
<rect x="741.60" y="1049.00" width="7.60" height="7.60" fill="#7a8c8a" />
<rect x="748.80" y="1049.00" width="7.60" height="7.60" fill="#7a8c8a" />
<rect x="756.00" y="1049.00" width="7.60" height="7.60" fill="#7a8c8a" />
<rect x="763.20" y="1049.00" width="7.60" height="7.60" fill="#7a8c8a" />
<rect x="770.40" y="1049.00" width="7.60" height="7.60" fill="#7a8c8a" />
<rect x="777.60" y="1049.00" width="7.60" height="7.60" fill="#7a8c8a" />
<rect x="784.80" y="1049.00" width="7.60" height="7.60" fill="#7a8c8a" />
<rect x="792.00" y="1049.00" width="7.60" height="7.60" fill="#7a8c8a" />
<rect x="799.20" y="1049.00" width="7.60" height="7.60" fill="#7a8c8a" />
<rect x="372.00" y="45.00" width="192.00" height="252.00" fill="#ffffff" />
<rect x="374.00" y="47.00" width="188.00" height="49.00" fill="#e7b900" />
<rect x="374.90" y="47.90" width="186.20" height="47.20" fill="#f9c700" />
<rect x="374.00" y="98.00" width="188.00" height="197.00" fill="#282222" />
<rect x="374.90" y="98.90" width="186.20" height="195.20" fill="#423837" />
<rect x="570.00" y="45.00" width="192.00" height="252.00" fill="#ffffff" />
<rect x="572.00" y="47.00" width="188.00" height="49.00" fill="#ed7700" />
<rect x="572.90" y="47.90" width="186.20" height="47.20" fill="#ff8000" />
<rect x="572.00" y="98.00" width="188.00" height="197.00" fill="#282222" />
<rect x="572.90" y="98.90" width="186.20" height="195.20" fill="#423837" />
<rect x="374.00" y="196.30" width="188.00" height="3.80" fill="#2a2322" />
<rect x="572.00" y="196.30" width="188.00" height="3.80" fill="#2a2322" />
<rect x="35.00" y="197.20" width="727.00" height="2.00" fill="#f4f4f4" />
<line x1="239" y1="128.6" x2="762" y2="128.6" stroke="#d6d6d6" stroke-width="1.4" stroke-dasharray="1.6 2"/>
<line x1="239" y1="230.6" x2="762" y2="230.6" stroke="#d6d6d6" stroke-width="1.4" stroke-dasharray="1.6 2"/>
<circle cx="246" cy="110" r="10.2" fill="#fff"/><circle cx="246" cy="110" r="8.8" fill="#b8252a"/>
<path d="M241.4,105.768L250.6,114.232M250.6,105.768L241.4,114.232" stroke="#fff" stroke-width="2.9" stroke-linecap="round"/>
<circle cx="246" cy="143.6" r="10.2" fill="#fff"/><circle cx="246" cy="143.6" r="8.8" fill="#1c7c34"/>
<path d="M240.2,144.0L243.8,147.4L250.9,140.2" fill="none" stroke="#fff" stroke-width="2.9" stroke-linecap="round" stroke-linejoin="round"/>
<circle cx="246" cy="214.4" r="10.2" fill="#fff"/><circle cx="246" cy="214.4" r="8.8" fill="#b8252a"/>
<path d="M241.4,210.168L250.6,218.632M250.6,210.168L241.4,218.632" stroke="#fff" stroke-width="2.9" stroke-linecap="round"/>
<circle cx="245.8" cy="245" r="10.2" fill="#fff"/><circle cx="245.8" cy="245" r="8.8" fill="#1c7c34"/>
<path d="M240.0,245.4L243.60000000000002,248.8L250.70000000000002,241.6" fill="none" stroke="#fff" stroke-width="2.9" stroke-linecap="round" stroke-linejoin="round"/>
<g fill="none" stroke="#e6eeec" stroke-width="0.85" stroke-opacity="0.8" stroke-linecap="round" stroke-linejoin="round">
<circle cx="105" cy="96.2" r="4.8"/>
<path d="M100,104 Q99,96 106,95.5 Q117,94 121.5,102 Q124,110 121,115 Q118,120 111,119.5 Q103,119 101,112 Q99.5,108 100,104"/>
<path d="M101.5,104 Q108,99 114,101 Q119,103 121.5,107"/>
<path d="M103,108 Q110,101 118,104"/>
<path d="M98,124 Q92,130 93.5,145 Q94,156 96,161"/>
<path d="M97.5,123 Q104,120 112,120.3 Q118,122 119,127"/>
<path d="M103,125 Q101,138 103,148 L107,152"/>
<path d="M112,121 Q116,126 118.5,127 L127,136 Q130,140 126,141 L118,139 Q114,137 113,134"/>
<path d="M94,152 L139.7,152 M94,155 L139.7,155 M94,164 L141,164 M94,166.5 L141,166.5"/>
<path d="M94.5,166.5 L94.5,180.5 M97,166.5 L97,180.5 M103.6,166.5 L103.6,180.5 M106.4,166.5 L106.4,180.5"/>
<path d="M104,140.5 L146,140.5 L146,143.8 L104,143.8 Z M104.5,143.8 L104.5,165 M107.3,143.8 L107.3,165 M143.5,143.8 L143.5,165"/>
<path d="M112,152 Q122,153 124,160 L124,170 Q125,176 130,178 L130,180.5 L114.5,180.5 Q116,176 118,174 L117,160"/>
<ellipse cx="126" cy="114.5" rx="1.8" ry="2.8"/>
<path d="M126,117.3 L126.8,121.5 Q129,123 131,122"/>
<path d="M142,101 Q144,95.5 151.8,95.5 Q161,95.5 164.5,104 Q166,110 165.5,120.2 L157.5,120.5"/>
<path d="M143.7,104.3 Q142,109 142.4,112.4 Q143,116 145.5,117.5 Q149,119 151.5,118"/>
<path d="M151.8,120.5 Q144,121 137,122.5 Q131,123.5 126,124"/>
<path d="M153.5,121 Q159,121.5 160,126 Q162,135 161,145 Q163,152 164.5,160"/>
<path d="M156,124 Q152,128 147,130.3 L130,130.5 Q128,132 130,133 L146,133.5"/>
<path d="M139,146 Q136,150 137,158 L137.2,177.4 L132.3,180.7 L149.4,180.7 L148.6,176 Q147,165 148,150 Q156,148 163,150"/>
<path d="M154.3,138.4 Q165,135.5 176.2,138.4 Q176,146 168,152 L164,153.5 L160,152 Q153,146 154.3,138.4 Z"/>
<path d="M156.5,140 Q165,138 174,140 Q172,146 165,150.5 Q158,146 156.5,140"/>
<rect x="150.2" y="151.4" width="30.9" height="9" rx="3"/>
<rect x="178.7" y="117.7" width="6.9" height="30.9" rx="3.2"/>
<path d="M181,148.6 L180.3,152 M163.2,160.4 L163.2,168.5 M167.3,160.4 L167.3,168.5"/>
<path d="M165.2,168.5 Q157,172 150.8,178.2 M165.2,168.5 Q173,172 179.5,178.2 M165.2,168.5 L165.2,178.2"/>
</g>
<g fill="#f4f7f6">
<circle cx="112.7" cy="109.8" r="1.25"/><circle cx="119.1" cy="110" r="1.2"/>
<path d="M113.6,114.6 Q115.6,117.8 117.6,114.8 Z"/>
<circle cx="146.5" cy="108.7" r="1.3"/><circle cx="154.7" cy="111.2" r="1.3"/>
<path d="M144.5,114.3 Q146,117 148,114.8 Z"/>
<circle cx="151" cy="179.9" r="1.4"/><circle cx="165.2" cy="179.9" r="1.4"/><circle cx="179.1" cy="179.9" r="1.4"/>
</g>
<g fill="none" stroke="#e6eeec" stroke-width="0.85" stroke-opacity="0.8" stroke-linecap="round" stroke-linejoin="round">
<path d="M86.8,221 Q86,213 96.9,211.6 Q106,211.5 108.2,217.2 Q110,222 107,224"/>
<path d="M88,219 Q95,214 107,219"/>
<path d="M87.5,222 Q87,231 90.5,235 M96,225.1 Q95,233 99,235.6 L104.7,234 L105,226"/>
<path d="M89.9,235.2 Q84,237 83.7,241.7 L83.3,264.5 Q86,267 91,266.5 L99.5,264.5 Q101.5,255 101.2,246.1 Q99,239 94,236"/>
<path d="M94.2,241.7 Q100,249 112,253 Q122,257 131,261 M96,246 Q104,252 113,256.5 Q122,260.5 129,263.5"/>
<path d="M89.9,266.2 L110,268.9 L110.5,287 L104.7,287.2 L104,291.6 L118.7,291.6 Q117,288 113.5,287.5 L113.2,268"/>
<path d="M95,269 L106,287.5"/>
<rect x="73.2" y="239.1" width="7" height="27.1" rx="3.3"/>
<path d="M77.6,268 L103,269.5 L103,275 L77.6,273.5 Z M89,275 L89,282 M92.5,275 L92.5,282"/>
<path d="M90.7,282 Q84,286 79,290.7 M90.7,282 Q97,286 103,290.3 M90.7,282 L90.7,290.3"/>
<path d="M109.5,236 Q110,231 115,231 Q120.5,231.5 120.5,237 Q120,243 114.5,243.5 Q109.8,242 109.5,236"/>
<path d="M111,233 Q115,229 119,232"/>
<path d="M118.7,229 L124,241.7 M120.5,228.5 L125.5,240"/>
<path d="M115,244 Q126,247 139,246.5 Q146,248 143.8,252 Q142.5,257.5 136,256 Q124,253 113,249"/>
<path d="M147.5,251.3 Q154,247 162.5,247.5 Q170,250 173.8,256.3 L177.5,257.5 L183,252.5 L185,254 L180,261.3"/>
<path d="M147.5,251.5 L147.5,261"/>
<path d="M110,255 Q125,257 147.5,261.3 L177.5,260 Q192,262 201.3,267.5 Q202,271 197.5,270.6 L135,268.8 Q122,266 110,258.8"/>
<path d="M133,268.5 L175,264 Q180,266 175,268.5 L134,280 Q130,282 134,283.5 L175,279 Q180,282 175,284.5 L133,290 Q129,292 133,293.3 L175,292.3"/>
</g>
<g fill="#f4f7f6">
<circle cx="102.6" cy="226" r="1.3"/><circle cx="118.7" cy="237.8" r="1.2"/><circle cx="122.5" cy="241" r="1.1"/>
<circle cx="79" cy="290.9" r="1.3"/><circle cx="90.7" cy="290.6" r="1.3"/><circle cx="103" cy="290.6" r="1.3"/>
</g>
<rect x="36.00" y="301.00" width="727.00" height="190.00" fill="#ffffff" />
<rect x="38.00" y="303.00" width="214.20" height="83.60" fill="#ea7500" />
<rect x="38.90" y="303.90" width="212.40" height="81.80" fill="#ff8000" />
<rect x="254.00" y="303.00" width="507.00" height="32.60" fill="#a12921" />
<rect x="254.90" y="303.90" width="505.20" height="30.80" fill="#be3127" />
<rect x="254.00" y="337.20" width="131.60" height="49.40" fill="#a2733e" />
<rect x="254.90" y="338.10" width="129.80" height="47.60" fill="#bf8849" />
<rect x="254.00" y="388.40" width="131.60" height="100.60" fill="#a2733e" />
<rect x="254.90" y="389.30" width="129.80" height="98.80" fill="#bf8849" />
<rect x="387.00" y="337.20" width="129.90" height="49.40" fill="#885227" />
<rect x="387.90" y="338.10" width="128.10" height="47.60" fill="#a0612e" />
<rect x="387.00" y="388.40" width="129.90" height="100.60" fill="#885227" />
<rect x="387.90" y="389.30" width="128.10" height="98.80" fill="#a0612e" />
<rect x="518.30" y="337.20" width="122.50" height="49.40" fill="#6b361a" />
<rect x="519.20" y="338.10" width="120.70" height="47.60" fill="#7e401f" />
<rect x="518.30" y="388.40" width="122.50" height="100.60" fill="#6b361a" />
<rect x="519.20" y="389.30" width="120.70" height="98.80" fill="#7e401f" />
<rect x="642.20" y="337.20" width="118.80" height="49.40" fill="#53270f" />
<rect x="643.10" y="338.10" width="117.00" height="47.60" fill="#622f12" />
<rect x="642.20" y="388.40" width="118.80" height="100.60" fill="#53270f" />
<rect x="643.10" y="389.30" width="117.00" height="98.80" fill="#622f12" />
<rect x="38.00" y="388.40" width="214.20" height="100.60" fill="#9d281f" />
<rect x="38.90" y="389.30" width="212.40" height="98.80" fill="#b93025" />
<rect x="316.70" y="402.90" width="5.00" height="2.00" fill="#fff" />
<rect x="699.50" y="407.30" width="3.90" height="2.00" fill="#fff" />
<rect x="699.50" y="471.30" width="3.90" height="2.00" fill="#fff" />
<rect x="169.50" y="674.90" width="37.10" height="13.60" fill="rgba(0,0,0,0.18)" />
<rect x="168.50" y="673.40" width="37.10" height="13.60" fill="#f7f7f7" />
<rect x="170.10" y="675.00" width="33.90" height="10.40" fill="#0b8433" />
<rect x="218.25" y="563.20" width="37.50" height="125.30" fill="rgba(0,0,0,0.18)" />
<rect x="217.25" y="561.70" width="37.50" height="125.30" fill="#f7f7f7" />
<rect x="218.85" y="563.30" width="34.30" height="122.10" fill="#ff8000" />
<rect x="267.40" y="648.70" width="37.20" height="39.80" fill="rgba(0,0,0,0.18)" />
<rect x="266.40" y="647.20" width="37.20" height="39.80" fill="#f7f7f7" />
<rect x="268.00" y="648.80" width="34.00" height="36.60" fill="#be3127" />
<rect x="423.00" y="658.75" width="38.00" height="29.75" fill="rgba(0,0,0,0.18)" />
<rect x="422.00" y="657.25" width="38.00" height="29.75" fill="#f7f7f7" />
<rect x="423.60" y="658.85" width="34.80" height="26.55" fill="#0b8433" />
<rect x="472.20" y="557.75" width="37.50" height="130.75" fill="rgba(0,0,0,0.18)" />
<rect x="471.20" y="556.25" width="37.50" height="130.75" fill="#f7f7f7" />
<rect x="472.80" y="557.85" width="34.30" height="127.55" fill="#ff8000" />
<rect x="521.00" y="653.70" width="38.00" height="34.80" fill="rgba(0,0,0,0.18)" />
<rect x="520.00" y="652.20" width="38.00" height="34.80" fill="#f7f7f7" />
<rect x="521.60" y="653.80" width="34.80" height="31.60" fill="#be3127" />
<rect x="669.70" y="573.00" width="23.30" height="23.40" fill="#f4f4f4" />
<rect x="671.30" y="574.60" width="20.10" height="20.20" fill="#0b8433" />
<path d="M681.35,578.5L689.25,590.7L673.45,590.7Z" fill="#fff"/>
<rect x="669.70" y="607.80" width="23.30" height="23.40" fill="#f4f4f4" />
<rect x="671.30" y="609.40" width="20.10" height="20.20" fill="#ff8000" />
<rect x="672.75" y="614.50" width="17.20" height="4.00" fill="#fff" />
<rect x="672.75" y="620.50" width="17.20" height="4.00" fill="#fff" />
<rect x="669.70" y="642.00" width="23.30" height="23.40" fill="#f4f4f4" />
<rect x="671.30" y="643.60" width="20.10" height="20.20" fill="#be3127" />
<path d="M673.45,647.7L689.25,647.7L681.35,659.9000000000001Z" fill="#fff"/>
<circle cx="122" cy="828.3" r="59.5" fill="#f4f4f4"/>
<path d="M119.6,835.3L137.30,772.15A58.2,58.2 0 1 1 106.77,884.47Z" fill="#bf3026" stroke="#f4f4f4" stroke-width="0.9" stroke-linejoin="round"/>
<path d="M119.6,835.3L106.77,884.47A58.2,58.2 0 0 1 97.46,881.08Z" fill="#0b8433" stroke="#f4f4f4" stroke-width="0.9" stroke-linejoin="round"/>
<path d="M119.6,835.3L97.46,881.08A58.2,58.2 0 0 1 137.30,772.15Z" fill="#ff8000" stroke="#f4f4f4" stroke-width="0.9" stroke-linejoin="round"/>
<circle cx="266.6" cy="828.2" r="75.8" fill="#f4f4f4"/>
<path d="M266,830.3L290.61,757.68A74.5,74.5 0 1 1 248.82,900.55Z" fill="#bf3026" stroke="#f4f4f4" stroke-width="0.9" stroke-linejoin="round"/>
<path d="M266,830.3L248.82,900.55A74.5,74.5 0 0 1 230.73,893.50Z" fill="#0b8433" stroke="#f4f4f4" stroke-width="0.9" stroke-linejoin="round"/>
<path d="M266,830.3L230.73,893.50A74.5,74.5 0 0 1 290.61,757.68Z" fill="#ff8000" stroke="#f4f4f4" stroke-width="0.9" stroke-linejoin="round"/>
<circle cx="423.9" cy="829.2" r="71.1" fill="#f4f4f4"/>
<path d="M422.9,831.8L445.80,762.92A69.8,69.8 0 1 1 407.49,897.04Z" fill="#bf3026" stroke="#f4f4f4" stroke-width="0.9" stroke-linejoin="round"/>
<path d="M422.9,831.8L407.49,897.04A69.8,69.8 0 0 1 390.46,890.47Z" fill="#0b8433" stroke="#f4f4f4" stroke-width="0.9" stroke-linejoin="round"/>
<path d="M422.9,831.8L390.46,890.47A69.8,69.8 0 0 1 445.80,762.92Z" fill="#ff8000" stroke="#f4f4f4" stroke-width="0.9" stroke-linejoin="round"/>
<circle cx="568.3" cy="827.5" r="64.3" fill="#f4f4f4"/>
<path d="M566.5,831.8L588.28,767.75A63,63 0 1 1 553.16,888.65Z" fill="#bf3026" stroke="#f4f4f4" stroke-width="0.9" stroke-linejoin="round"/>
<path d="M566.5,831.8L553.16,888.65A63,63 0 0 1 538.34,882.92Z" fill="#0b8433" stroke="#f4f4f4" stroke-width="0.9" stroke-linejoin="round"/>
<path d="M566.5,831.8L538.34,882.92A63,63 0 0 1 588.28,767.75Z" fill="#ff8000" stroke="#f4f4f4" stroke-width="0.9" stroke-linejoin="round"/>
<rect x="122.05" y="887.50" width="1.50" height="31.80" fill="#f4f4f4" />
<circle cx="122.8" cy="919.3" r="3.6" fill="#f4f4f4"/>
<rect x="265.05" y="903.80" width="1.50" height="15.50" fill="#f4f4f4" />
<circle cx="265.8" cy="919.3" r="3.6" fill="#f4f4f4"/>
<rect x="422.65" y="900.00" width="1.50" height="18.20" fill="#f4f4f4" />
<circle cx="423.4" cy="918.2" r="3.6" fill="#f4f4f4"/>
<rect x="567.05" y="891.50" width="1.50" height="26.70" fill="#f4f4f4" />
<circle cx="567.8" cy="918.2" r="3.6" fill="#f4f4f4"/>
<circle cx="682.35" cy="801.75" r="14.1" fill="#f4f4f4"/><circle cx="682.35" cy="801.75" r="12.5" fill="#0b8433"/>
<path d="M682.35,794.25L690.35,805.75L674.35,805.75Z" fill="#fff"/>
<circle cx="682.35" cy="836.25" r="14.1" fill="#f4f4f4"/><circle cx="682.35" cy="836.25" r="12.5" fill="#ff8000"/>
<rect x="673.35" y="831.05" width="18.00" height="4.20" fill="#fff" />
<rect x="673.35" y="837.75" width="18.00" height="3.80" fill="#fff" />
<circle cx="682.35" cy="869.5" r="14.1" fill="#f4f4f4"/><circle cx="682.35" cy="869.5" r="12.5" fill="#be3127"/>
<path d="M674.35,865.5L690.35,865.5L682.35,877.0Z" fill="#fff"/>
<rect x="114.10" y="1046.60" width="117.80" height="5.00" fill="#ffffff" />
<rect x="108.00" y="1051.60" width="6.10" height="60.90" fill="#ffffff" />
<rect x="231.90" y="1051.60" width="6.10" height="60.90" fill="#ffffff" />
<rect x="114.10" y="1112.50" width="117.80" height="5.00" fill="#ffffff" />
<rect x="114.10" y="1051.60" width="117.80" height="60.90" fill="#4c9fcc" />
<rect x="163.85" y="1112.50" width="18.30" height="5.00" fill="#4c9fcc" />
<rect x="163.85" y="1117.50" width="6.10" height="5.00" fill="#ffffff" />
<rect x="169.95" y="1117.50" width="6.10" height="5.00" fill="#4c9fcc" />
<rect x="176.05" y="1117.50" width="6.10" height="5.00" fill="#ffffff" />
<rect x="169.95" y="1122.50" width="6.10" height="5.00" fill="#ffffff" />
<rect x="255.10" y="1032.00" width="116.80" height="5.00" fill="#ffffff" />
<rect x="249.00" y="1037.00" width="6.10" height="60.40" fill="#ffffff" />
<rect x="371.90" y="1037.00" width="6.10" height="60.40" fill="#ffffff" />
<rect x="255.10" y="1097.40" width="116.80" height="5.00" fill="#ffffff" />
<rect x="255.10" y="1037.00" width="116.80" height="60.40" fill="#bf8849" />
<rect x="304.35" y="1097.40" width="18.30" height="5.00" fill="#bf8849" />
<rect x="304.35" y="1102.40" width="6.10" height="5.00" fill="#ffffff" />
<rect x="310.45" y="1102.40" width="6.10" height="5.00" fill="#bf8849" />
<rect x="316.55" y="1102.40" width="6.10" height="5.00" fill="#ffffff" />
<rect x="310.45" y="1107.40" width="6.10" height="5.00" fill="#ffffff" />
<rect x="394.10" y="1062.40" width="117.80" height="5.00" fill="#ffffff" />
<rect x="388.00" y="1067.40" width="6.10" height="60.60" fill="#ffffff" />
<rect x="511.90" y="1067.40" width="6.10" height="60.60" fill="#ffffff" />
<rect x="394.10" y="1128.00" width="117.80" height="5.00" fill="#ffffff" />
<rect x="394.10" y="1067.40" width="117.80" height="60.60" fill="#ff8000" />
<rect x="443.85" y="1128.00" width="18.30" height="5.00" fill="#ff8000" />
<rect x="443.85" y="1133.00" width="6.10" height="5.00" fill="#ffffff" />
<rect x="449.95" y="1133.00" width="6.10" height="5.00" fill="#ff8000" />
<rect x="456.05" y="1133.00" width="6.10" height="5.00" fill="#ffffff" />
<rect x="449.95" y="1138.00" width="6.10" height="5.00" fill="#ffffff" />
<rect x="534.60" y="1036.70" width="135.50" height="5.00" fill="#ffffff" />
<rect x="528.50" y="1041.70" width="6.10" height="60.70" fill="#ffffff" />
<rect x="670.10" y="1041.70" width="6.10" height="60.70" fill="#ffffff" />
<rect x="534.60" y="1102.40" width="135.50" height="5.00" fill="#ffffff" />
<rect x="534.60" y="1041.70" width="135.50" height="60.70" fill="#2e55a5" />
<rect x="593.20" y="1102.40" width="18.30" height="5.00" fill="#2e55a5" />
<rect x="593.20" y="1107.40" width="6.10" height="5.00" fill="#ffffff" />
<rect x="599.30" y="1107.40" width="6.10" height="5.00" fill="#2e55a5" />
<rect x="605.40" y="1107.40" width="6.10" height="5.00" fill="#ffffff" />
<rect x="599.30" y="1112.40" width="6.10" height="5.00" fill="#ffffff" />
<rect x="16.42" y="976.20" width="6.13" height="6.13" fill="#e6dcb4" />
<rect x="22.10" y="976.20" width="6.13" height="6.13" fill="#e6dcb4" />
<rect x="39.14" y="976.20" width="6.13" height="6.13" fill="#e6dcb4" />
<rect x="44.82" y="976.20" width="6.13" height="6.13" fill="#e6dcb4" />
<rect x="50.50" y="976.20" width="6.13" height="6.13" fill="#e6dcb4" />
<rect x="56.18" y="976.20" width="6.13" height="6.13" fill="#e6dcb4" />
<rect x="61.86" y="976.20" width="6.13" height="6.13" fill="#e6dcb4" />
<rect x="10.74" y="981.88" width="6.13" height="6.13" fill="#e6dcb4" />
<rect x="16.42" y="981.88" width="6.13" height="6.13" fill="#e6dcb4" />
<rect x="22.10" y="981.88" width="6.13" height="6.13" fill="#e6dcb4" />
<rect x="33.46" y="981.88" width="6.13" height="6.13" fill="#e6dcb4" />
<rect x="39.14" y="981.88" width="6.13" height="6.13" fill="#e6dcb4" />
<rect x="44.82" y="981.88" width="6.13" height="6.13" fill="#f3ebc6" />
<rect x="50.50" y="981.88" width="6.13" height="6.13" fill="#f3ebc6" />
<rect x="56.18" y="981.88" width="6.13" height="6.13" fill="#f3ebc6" />
<rect x="61.86" y="981.88" width="6.13" height="6.13" fill="#e6dcb4" />
<rect x="67.54" y="981.88" width="6.13" height="6.13" fill="#e6dcb4" />
<rect x="5.06" y="987.56" width="6.13" height="6.13" fill="#e6dcb4" />
<rect x="10.74" y="987.56" width="6.13" height="6.13" fill="#e6dcb4" />
<rect x="16.42" y="987.56" width="6.13" height="6.13" fill="#e6dcb4" />
<rect x="22.10" y="987.56" width="6.13" height="6.13" fill="#e6dcb4" />
<rect x="27.78" y="987.56" width="6.13" height="6.13" fill="#e6dcb4" />
<rect x="33.46" y="987.56" width="6.13" height="6.13" fill="#e6dcb4" />
<rect x="39.14" y="987.56" width="6.13" height="6.13" fill="#f3ebc6" />
<rect x="44.82" y="987.56" width="6.13" height="6.13" fill="#e6dcb4" />
<rect x="50.50" y="987.56" width="6.13" height="6.13" fill="#e6dcb4" />
<rect x="56.18" y="987.56" width="6.13" height="6.13" fill="#e6dcb4" />
<rect x="61.86" y="987.56" width="6.13" height="6.13" fill="#e6dcb4" />
<rect x="67.54" y="987.56" width="6.13" height="6.13" fill="#e6dcb4" />
<rect x="73.22" y="987.56" width="6.13" height="6.13" fill="#e6dcb4" />
<rect x="5.06" y="993.24" width="6.13" height="6.13" fill="#c9b98f" />
<rect x="10.74" y="993.24" width="6.13" height="6.13" fill="#c9b98f" />
<rect x="16.42" y="993.24" width="6.13" height="6.13" fill="#e6dcb4" />
<rect x="22.10" y="993.24" width="6.13" height="6.13" fill="#e6dcb4" />
<rect x="27.78" y="993.24" width="6.13" height="6.13" fill="#e6dcb4" />
<rect x="33.46" y="993.24" width="6.13" height="6.13" fill="#f3ebc6" />
<rect x="39.14" y="993.24" width="6.13" height="6.13" fill="#e6dcb4" />
<rect x="44.82" y="993.24" width="6.13" height="6.13" fill="#f4b25f" />
<rect x="50.50" y="993.24" width="6.13" height="6.13" fill="#e6dcb4" />
<rect x="56.18" y="993.24" width="6.13" height="6.13" fill="#e6dcb4" />
<rect x="61.86" y="993.24" width="6.13" height="6.13" fill="#e6dcb4" />
<rect x="67.54" y="993.24" width="6.13" height="6.13" fill="#e6dcb4" />
<rect x="73.22" y="993.24" width="6.13" height="6.13" fill="#e6dcb4" />
<rect x="16.42" y="998.92" width="6.13" height="6.13" fill="#e6dcb4" />
<rect x="22.10" y="998.92" width="6.13" height="6.13" fill="#e6dcb4" />
<rect x="27.78" y="998.92" width="6.13" height="6.13" fill="#e6dcb4" />
<rect x="33.46" y="998.92" width="6.13" height="6.13" fill="#e6dcb4" />
<rect x="39.14" y="998.92" width="6.13" height="6.13" fill="#e6dcb4" />
<rect x="44.82" y="998.92" width="6.13" height="6.13" fill="#f4b25f" />
<rect x="50.50" y="998.92" width="6.13" height="6.13" fill="#f4b25f" />
<rect x="56.18" y="998.92" width="6.13" height="6.13" fill="#e6dcb4" />
<rect x="61.86" y="998.92" width="6.13" height="6.13" fill="#e6dcb4" />
<rect x="67.54" y="998.92" width="6.13" height="6.13" fill="#e6dcb4" />
<rect x="73.22" y="998.92" width="6.13" height="6.13" fill="#e6dcb4" />
<rect x="16.42" y="1004.60" width="6.13" height="6.13" fill="#e6dcb4" />
<rect x="22.10" y="1004.60" width="6.13" height="6.13" fill="#e6dcb4" />
<rect x="27.78" y="1004.60" width="6.13" height="6.13" fill="#e6dcb4" />
<rect x="33.46" y="1004.60" width="6.13" height="6.13" fill="#e6dcb4" />
<rect x="39.14" y="1004.60" width="6.13" height="6.13" fill="#f4b25f" />
<rect x="44.82" y="1004.60" width="6.13" height="6.13" fill="#f4b25f" />
<rect x="50.50" y="1004.60" width="6.13" height="6.13" fill="#f4b25f" />
<rect x="56.18" y="1004.60" width="6.13" height="6.13" fill="#f4b25f" />
<rect x="61.86" y="1004.60" width="6.13" height="6.13" fill="#f4b25f" />
<rect x="67.54" y="1004.60" width="6.13" height="6.13" fill="#f4b25f" />
<rect x="73.22" y="1004.60" width="6.13" height="6.13" fill="#e6dcb4" />
<rect x="16.42" y="1010.28" width="6.13" height="6.13" fill="#e6dcb4" />
<rect x="22.10" y="1010.28" width="6.13" height="6.13" fill="#e6dcb4" />
<rect x="27.78" y="1010.28" width="6.13" height="6.13" fill="#e6dcb4" />
<rect x="33.46" y="1010.28" width="6.13" height="6.13" fill="#e6dcb4" />
<rect x="39.14" y="1010.28" width="6.13" height="6.13" fill="#f4b25f" />
<rect x="44.82" y="1010.28" width="6.13" height="6.13" fill="#f4b25f" />
<rect x="50.50" y="1010.28" width="6.13" height="6.13" fill="#4a2b1c" />
<rect x="56.18" y="1010.28" width="6.13" height="6.13" fill="#f4b25f" />
<rect x="61.86" y="1010.28" width="6.13" height="6.13" fill="#4a2b1c" />
<rect x="67.54" y="1010.28" width="6.13" height="6.13" fill="#f4b25f" />
<rect x="73.22" y="1010.28" width="6.13" height="6.13" fill="#e6dcb4" />
<rect x="78.90" y="1010.28" width="6.13" height="6.13" fill="#e6dcb4" />
<rect x="16.42" y="1015.96" width="6.13" height="6.13" fill="#c9b98f" />
<rect x="22.10" y="1015.96" width="6.13" height="6.13" fill="#e6dcb4" />
<rect x="27.78" y="1015.96" width="6.13" height="6.13" fill="#e6dcb4" />
<rect x="33.46" y="1015.96" width="6.13" height="6.13" fill="#f4b25f" />
<rect x="39.14" y="1015.96" width="6.13" height="6.13" fill="#f3ebc6" />
<rect x="44.82" y="1015.96" width="6.13" height="6.13" fill="#f4b25f" />
<rect x="50.50" y="1015.96" width="6.13" height="6.13" fill="#4a2b1c" />
<rect x="56.18" y="1015.96" width="6.13" height="6.13" fill="#f4b25f" />
<rect x="61.86" y="1015.96" width="6.13" height="6.13" fill="#4a2b1c" />
<rect x="67.54" y="1015.96" width="6.13" height="6.13" fill="#f4b25f" />
<rect x="73.22" y="1015.96" width="6.13" height="6.13" fill="#f4b25f" />
<rect x="16.42" y="1021.64" width="6.13" height="6.13" fill="#e6dcb4" />
<rect x="22.10" y="1021.64" width="6.13" height="6.13" fill="#e6dcb4" />
<rect x="27.78" y="1021.64" width="6.13" height="6.13" fill="#e6dcb4" />
<rect x="33.46" y="1021.64" width="6.13" height="6.13" fill="#f4b25f" />
<rect x="39.14" y="1021.64" width="6.13" height="6.13" fill="#f4b25f" />
<rect x="44.82" y="1021.64" width="6.13" height="6.13" fill="#f4b25f" />
<rect x="50.50" y="1021.64" width="6.13" height="6.13" fill="#f4b25f" />
<rect x="56.18" y="1021.64" width="6.13" height="6.13" fill="#f4b25f" />
<rect x="61.86" y="1021.64" width="6.13" height="6.13" fill="#f4b25f" />
<rect x="67.54" y="1021.64" width="6.13" height="6.13" fill="#f4b25f" />
<rect x="73.22" y="1021.64" width="6.13" height="6.13" fill="#f4b25f" />
<rect x="22.10" y="1027.32" width="6.13" height="6.13" fill="#e6dcb4" />
<rect x="27.78" y="1027.32" width="6.13" height="6.13" fill="#d99e50" />
<rect x="33.46" y="1027.32" width="6.13" height="6.13" fill="#f4b25f" />
<rect x="39.14" y="1027.32" width="6.13" height="6.13" fill="#f4b25f" />
<rect x="44.82" y="1027.32" width="6.13" height="6.13" fill="#d92a1e" />
<rect x="50.50" y="1027.32" width="6.13" height="6.13" fill="#f4b25f" />
<rect x="56.18" y="1027.32" width="6.13" height="6.13" fill="#f4b25f" />
<rect x="61.86" y="1027.32" width="6.13" height="6.13" fill="#d92a1e" />
<rect x="67.54" y="1027.32" width="6.13" height="6.13" fill="#f4b25f" />
<rect x="73.22" y="1027.32" width="6.13" height="6.13" fill="#f4b25f" />
<rect x="27.78" y="1033.00" width="6.13" height="6.13" fill="#d99e50" />
<rect x="33.46" y="1033.00" width="6.13" height="6.13" fill="#d99e50" />
<rect x="39.14" y="1033.00" width="6.13" height="6.13" fill="#f4b25f" />
<rect x="44.82" y="1033.00" width="6.13" height="6.13" fill="#f4b25f" />
<rect x="50.50" y="1033.00" width="6.13" height="6.13" fill="#d92a1e" />
<rect x="56.18" y="1033.00" width="6.13" height="6.13" fill="#d92a1e" />
<rect x="61.86" y="1033.00" width="6.13" height="6.13" fill="#f4b25f" />
<rect x="67.54" y="1033.00" width="6.13" height="6.13" fill="#f4b25f" />
<rect x="27.78" y="1038.68" width="6.13" height="6.13" fill="#d9231d" />
<rect x="33.46" y="1038.68" width="6.13" height="6.13" fill="#d9231d" />
<rect x="39.14" y="1038.68" width="6.13" height="6.13" fill="#d99e50" />
<rect x="44.82" y="1038.68" width="6.13" height="6.13" fill="#f4b25f" />
<rect x="50.50" y="1038.68" width="6.13" height="6.13" fill="#f4b25f" />
<rect x="56.18" y="1038.68" width="6.13" height="6.13" fill="#f4b25f" />
<rect x="61.86" y="1038.68" width="6.13" height="6.13" fill="#f4b25f" />
<rect x="67.54" y="1038.68" width="6.13" height="6.13" fill="#d9231d" />
<rect x="22.10" y="1044.36" width="6.13" height="6.13" fill="#d9231d" />
<rect x="27.78" y="1044.36" width="6.13" height="6.13" fill="#d9231d" />
<rect x="33.46" y="1044.36" width="6.13" height="6.13" fill="#d9231d" />
<rect x="39.14" y="1044.36" width="6.13" height="6.13" fill="#d9231d" />
<rect x="44.82" y="1044.36" width="6.13" height="6.13" fill="#d9231d" />
<rect x="50.50" y="1044.36" width="6.13" height="6.13" fill="#d9231d" />
<rect x="56.18" y="1044.36" width="6.13" height="6.13" fill="#d9231d" />
<rect x="61.86" y="1044.36" width="6.13" height="6.13" fill="#d9231d" />
<rect x="67.54" y="1044.36" width="6.13" height="6.13" fill="#d9231d" />
<rect x="73.22" y="1044.36" width="6.13" height="6.13" fill="#d9231d" />
<rect x="16.42" y="1050.04" width="6.13" height="6.13" fill="#d9231d" />
<rect x="22.10" y="1050.04" width="6.13" height="6.13" fill="#d9231d" />
<rect x="27.78" y="1050.04" width="6.13" height="6.13" fill="#d9231d" />
<rect x="33.46" y="1050.04" width="6.13" height="6.13" fill="#d9231d" />
<rect x="39.14" y="1050.04" width="6.13" height="6.13" fill="#d9231d" />
<rect x="44.82" y="1050.04" width="6.13" height="6.13" fill="#d9231d" />
<rect x="50.50" y="1050.04" width="6.13" height="6.13" fill="#d9231d" />
<rect x="56.18" y="1050.04" width="6.13" height="6.13" fill="#d9231d" />
<rect x="61.86" y="1050.04" width="6.13" height="6.13" fill="#d9231d" />
<rect x="67.54" y="1050.04" width="6.13" height="6.13" fill="#d9231d" />
<rect x="73.22" y="1050.04" width="6.13" height="6.13" fill="#d9231d" />
<rect x="78.90" y="1050.04" width="6.13" height="6.13" fill="#d9231d" />
<rect x="16.42" y="1055.72" width="6.13" height="6.13" fill="#d9231d" />
<rect x="22.10" y="1055.72" width="6.13" height="6.13" fill="#d9231d" />
<rect x="27.78" y="1055.72" width="6.13" height="6.13" fill="#d9231d" />
<rect x="33.46" y="1055.72" width="6.13" height="6.13" fill="#e97c13" />
<rect x="39.14" y="1055.72" width="6.13" height="6.13" fill="#d9231d" />
<rect x="44.82" y="1055.72" width="6.13" height="6.13" fill="#d9231d" />
<rect x="50.50" y="1055.72" width="6.13" height="6.13" fill="#d9231d" />
<rect x="56.18" y="1055.72" width="6.13" height="6.13" fill="#d9231d" />
<rect x="61.86" y="1055.72" width="6.13" height="6.13" fill="#d9231d" />
<rect x="67.54" y="1055.72" width="6.13" height="6.13" fill="#d9231d" />
<rect x="73.22" y="1055.72" width="6.13" height="6.13" fill="#d9231d" />
<rect x="78.90" y="1055.72" width="6.13" height="6.13" fill="#d9231d" />
<rect x="10.74" y="1061.40" width="6.13" height="6.13" fill="#d9231d" />
<rect x="16.42" y="1061.40" width="6.13" height="6.13" fill="#d9231d" />
<rect x="22.10" y="1061.40" width="6.13" height="6.13" fill="#d9231d" />
<rect x="27.78" y="1061.40" width="6.13" height="6.13" fill="#d9231d" />
<rect x="33.46" y="1061.40" width="6.13" height="6.13" fill="#f39419" />
<rect x="39.14" y="1061.40" width="6.13" height="6.13" fill="#d9231d" />
<rect x="44.82" y="1061.40" width="6.13" height="6.13" fill="#d9231d" />
<rect x="50.50" y="1061.40" width="6.13" height="6.13" fill="#d9231d" />
<rect x="56.18" y="1061.40" width="6.13" height="6.13" fill="#d9231d" />
<rect x="61.86" y="1061.40" width="6.13" height="6.13" fill="#d9231d" />
<rect x="67.54" y="1061.40" width="6.13" height="6.13" fill="#d9231d" />
<rect x="73.22" y="1061.40" width="6.13" height="6.13" fill="#f39419" />
<rect x="78.90" y="1061.40" width="6.13" height="6.13" fill="#d9231d" />
<rect x="10.74" y="1067.08" width="6.13" height="6.13" fill="#d9231d" />
<rect x="16.42" y="1067.08" width="6.13" height="6.13" fill="#d9231d" />
<rect x="22.10" y="1067.08" width="6.13" height="6.13" fill="#d9231d" />
<rect x="27.78" y="1067.08" width="6.13" height="6.13" fill="#d9231d" />
<rect x="33.46" y="1067.08" width="6.13" height="6.13" fill="#f39419" />
<rect x="39.14" y="1067.08" width="6.13" height="6.13" fill="#d9231d" />
<rect x="44.82" y="1067.08" width="6.13" height="6.13" fill="#d9231d" />
<rect x="50.50" y="1067.08" width="6.13" height="6.13" fill="#d9231d" />
<rect x="56.18" y="1067.08" width="6.13" height="6.13" fill="#d9231d" />
<rect x="61.86" y="1067.08" width="6.13" height="6.13" fill="#d9231d" />
<rect x="67.54" y="1067.08" width="6.13" height="6.13" fill="#d9231d" />
<rect x="73.22" y="1067.08" width="6.13" height="6.13" fill="#f39419" />
<rect x="78.90" y="1067.08" width="6.13" height="6.13" fill="#d9231d" />
<rect x="10.74" y="1072.76" width="6.13" height="6.13" fill="#d9231d" />
<rect x="16.42" y="1072.76" width="6.13" height="6.13" fill="#d9231d" />
<rect x="22.10" y="1072.76" width="6.13" height="6.13" fill="#d9231d" />
<rect x="27.78" y="1072.76" width="6.13" height="6.13" fill="#f39419" />
<rect x="33.46" y="1072.76" width="6.13" height="6.13" fill="#f39419" />
<rect x="39.14" y="1072.76" width="6.13" height="6.13" fill="#d9231d" />
<rect x="44.82" y="1072.76" width="6.13" height="6.13" fill="#d9231d" />
<rect x="50.50" y="1072.76" width="6.13" height="6.13" fill="#d9231d" />
<rect x="56.18" y="1072.76" width="6.13" height="6.13" fill="#d9231d" />
<rect x="61.86" y="1072.76" width="6.13" height="6.13" fill="#d9231d" />
<rect x="67.54" y="1072.76" width="6.13" height="6.13" fill="#d9231d" />
<rect x="73.22" y="1072.76" width="6.13" height="6.13" fill="#f39419" />
<rect x="78.90" y="1072.76" width="6.13" height="6.13" fill="#d9231d" />
<rect x="10.74" y="1078.44" width="6.13" height="6.13" fill="#d9231d" />
<rect x="16.42" y="1078.44" width="6.13" height="6.13" fill="#d9231d" />
<rect x="22.10" y="1078.44" width="6.13" height="6.13" fill="#d9231d" />
<rect x="27.78" y="1078.44" width="6.13" height="6.13" fill="#f39419" />
<rect x="33.46" y="1078.44" width="6.13" height="6.13" fill="#f39419" />
<rect x="39.14" y="1078.44" width="6.13" height="6.13" fill="#d9231d" />
<rect x="44.82" y="1078.44" width="6.13" height="6.13" fill="#d9231d" />
<rect x="50.50" y="1078.44" width="6.13" height="6.13" fill="#d9231d" />
<rect x="56.18" y="1078.44" width="6.13" height="6.13" fill="#d9231d" />
<rect x="61.86" y="1078.44" width="6.13" height="6.13" fill="#d9231d" />
<rect x="67.54" y="1078.44" width="6.13" height="6.13" fill="#d9231d" />
<rect x="73.22" y="1078.44" width="6.13" height="6.13" fill="#f39419" />
<rect x="78.90" y="1078.44" width="6.13" height="6.13" fill="#d9231d" />
<rect x="10.74" y="1084.12" width="6.13" height="6.13" fill="#d9231d" />
<rect x="16.42" y="1084.12" width="6.13" height="6.13" fill="#d9231d" />
<rect x="22.10" y="1084.12" width="6.13" height="6.13" fill="#d9231d" />
<rect x="27.78" y="1084.12" width="6.13" height="6.13" fill="#e97c13" />
<rect x="33.46" y="1084.12" width="6.13" height="6.13" fill="#e97c13" />
<rect x="39.14" y="1084.12" width="6.13" height="6.13" fill="#f39419" />
<rect x="44.82" y="1084.12" width="6.13" height="6.13" fill="#f39419" />
<rect x="50.50" y="1084.12" width="6.13" height="6.13" fill="#f39419" />
<rect x="56.18" y="1084.12" width="6.13" height="6.13" fill="#f39419" />
<rect x="61.86" y="1084.12" width="6.13" height="6.13" fill="#f39419" />
<rect x="67.54" y="1084.12" width="6.13" height="6.13" fill="#f39419" />
<rect x="73.22" y="1084.12" width="6.13" height="6.13" fill="#e97c13" />
<rect x="78.90" y="1084.12" width="6.13" height="6.13" fill="#d9231d" />
<rect x="84.58" y="1084.12" width="6.13" height="6.13" fill="#d9231d" />
<rect x="16.42" y="1089.80" width="6.13" height="6.13" fill="#f4b25f" />
<rect x="22.10" y="1089.80" width="6.13" height="6.13" fill="#f4b25f" />
<rect x="27.78" y="1089.80" width="6.13" height="6.13" fill="#f4b25f" />
<rect x="33.46" y="1089.80" width="6.13" height="6.13" fill="#e97c13" />
<rect x="39.14" y="1089.80" width="6.13" height="6.13" fill="#f39419" />
<rect x="44.82" y="1089.80" width="6.13" height="6.13" fill="#f39419" />
<rect x="50.50" y="1089.80" width="6.13" height="6.13" fill="#f39419" />
<rect x="56.18" y="1089.80" width="6.13" height="6.13" fill="#f39419" />
<rect x="61.86" y="1089.80" width="6.13" height="6.13" fill="#f39419" />
<rect x="67.54" y="1089.80" width="6.13" height="6.13" fill="#f39419" />
<rect x="73.22" y="1089.80" width="6.13" height="6.13" fill="#f4b25f" />
<rect x="78.90" y="1089.80" width="6.13" height="6.13" fill="#f4b25f" />
<rect x="16.42" y="1095.48" width="6.13" height="6.13" fill="#f4b25f" />
<rect x="22.10" y="1095.48" width="6.13" height="6.13" fill="#f4b25f" />
<rect x="27.78" y="1095.48" width="6.13" height="6.13" fill="#e97c13" />
<rect x="33.46" y="1095.48" width="6.13" height="6.13" fill="#f39419" />
<rect x="39.14" y="1095.48" width="6.13" height="6.13" fill="#f39419" />
<rect x="44.82" y="1095.48" width="6.13" height="6.13" fill="#f39419" />
<rect x="50.50" y="1095.48" width="6.13" height="6.13" fill="#f39419" />
<rect x="56.18" y="1095.48" width="6.13" height="6.13" fill="#f39419" />
<rect x="61.86" y="1095.48" width="6.13" height="6.13" fill="#f39419" />
<rect x="67.54" y="1095.48" width="6.13" height="6.13" fill="#f39419" />
<rect x="78.90" y="1095.48" width="6.13" height="6.13" fill="#f4b25f" />
<rect x="22.10" y="1101.16" width="6.13" height="6.13" fill="#e97c13" />
<rect x="27.78" y="1101.16" width="6.13" height="6.13" fill="#f39419" />
<rect x="33.46" y="1101.16" width="6.13" height="6.13" fill="#f39419" />
<rect x="39.14" y="1101.16" width="6.13" height="6.13" fill="#f39419" />
<rect x="44.82" y="1101.16" width="6.13" height="6.13" fill="#f39419" />
<rect x="50.50" y="1101.16" width="6.13" height="6.13" fill="#f39419" />
<rect x="56.18" y="1101.16" width="6.13" height="6.13" fill="#f39419" />
<rect x="61.86" y="1101.16" width="6.13" height="6.13" fill="#f39419" />
<rect x="67.54" y="1101.16" width="6.13" height="6.13" fill="#f39419" />
<rect x="22.10" y="1106.84" width="6.13" height="6.13" fill="#e97c13" />
<rect x="27.78" y="1106.84" width="6.13" height="6.13" fill="#f39419" />
<rect x="33.46" y="1106.84" width="6.13" height="6.13" fill="#f39419" />
<rect x="39.14" y="1106.84" width="6.13" height="6.13" fill="#f39419" />
<rect x="44.82" y="1106.84" width="6.13" height="6.13" fill="#f39419" />
<rect x="50.50" y="1106.84" width="6.13" height="6.13" fill="#f39419" />
<rect x="56.18" y="1106.84" width="6.13" height="6.13" fill="#f39419" />
<rect x="61.86" y="1106.84" width="6.13" height="6.13" fill="#f39419" />
<rect x="67.54" y="1106.84" width="6.13" height="6.13" fill="#f39419" />
<rect x="22.10" y="1112.52" width="6.13" height="6.13" fill="#e97c13" />
<rect x="27.78" y="1112.52" width="6.13" height="6.13" fill="#f39419" />
<rect x="33.46" y="1112.52" width="6.13" height="6.13" fill="#f39419" />
<rect x="39.14" y="1112.52" width="6.13" height="6.13" fill="#f39419" />
<rect x="44.82" y="1112.52" width="6.13" height="6.13" fill="#f39419" />
<rect x="50.50" y="1112.52" width="6.13" height="6.13" fill="#f39419" />
<rect x="56.18" y="1112.52" width="6.13" height="6.13" fill="#f39419" />
<rect x="61.86" y="1112.52" width="6.13" height="6.13" fill="#f39419" />
<rect x="67.54" y="1112.52" width="6.13" height="6.13" fill="#f39419" />
<rect x="22.10" y="1118.20" width="6.13" height="6.13" fill="#e97c13" />
<rect x="27.78" y="1118.20" width="6.13" height="6.13" fill="#f39419" />
<rect x="33.46" y="1118.20" width="6.13" height="6.13" fill="#f39419" />
<rect x="39.14" y="1118.20" width="6.13" height="6.13" fill="#f39419" />
<rect x="44.82" y="1118.20" width="6.13" height="6.13" fill="#f39419" />
<rect x="50.50" y="1118.20" width="6.13" height="6.13" fill="#f39419" />
<rect x="56.18" y="1118.20" width="6.13" height="6.13" fill="#f39419" />
<rect x="61.86" y="1118.20" width="6.13" height="6.13" fill="#f39419" />
<rect x="67.54" y="1118.20" width="6.13" height="6.13" fill="#f39419" />
<rect x="22.10" y="1123.88" width="6.13" height="6.13" fill="#e97c13" />
<rect x="27.78" y="1123.88" width="6.13" height="6.13" fill="#f39419" />
<rect x="33.46" y="1123.88" width="6.13" height="6.13" fill="#f39419" />
<rect x="39.14" y="1123.88" width="6.13" height="6.13" fill="#f39419" />
<rect x="44.82" y="1123.88" width="6.13" height="6.13" fill="#f39419" />
<rect x="50.50" y="1123.88" width="6.13" height="6.13" fill="#f39419" />
<rect x="56.18" y="1123.88" width="6.13" height="6.13" fill="#f39419" />
<rect x="61.86" y="1123.88" width="6.13" height="6.13" fill="#f39419" />
<rect x="67.54" y="1123.88" width="6.13" height="6.13" fill="#f39419" />
<rect x="27.78" y="1129.56" width="6.13" height="6.13" fill="#3d2314" />
<rect x="33.46" y="1129.56" width="6.13" height="6.13" fill="#f4b25f" />
<rect x="56.18" y="1129.56" width="6.13" height="6.13" fill="#3d2314" />
<rect x="61.86" y="1129.56" width="6.13" height="6.13" fill="#f4b25f" />
<rect x="27.78" y="1135.24" width="6.13" height="6.13" fill="#3d2314" />
<rect x="33.46" y="1135.24" width="6.13" height="6.13" fill="#3d2314" />
<rect x="39.14" y="1135.24" width="6.13" height="6.13" fill="#3d2314" />
<rect x="56.18" y="1135.24" width="6.13" height="6.13" fill="#3d2314" />
<rect x="61.86" y="1135.24" width="6.13" height="6.13" fill="#3d2314" />
<rect x="67.54" y="1135.24" width="6.13" height="6.13" fill="#3d2314" />
<rect x="723.16" y="973.75" width="6.98" height="6.70" fill="#e8953a" />
<rect x="729.69" y="973.75" width="6.98" height="6.70" fill="#e8953a" />
<rect x="736.22" y="973.75" width="6.98" height="6.70" fill="#e8953a" />
<rect x="742.75" y="973.75" width="6.98" height="6.70" fill="#e8953a" />
<rect x="749.28" y="973.75" width="6.98" height="6.70" fill="#eda651" />
<rect x="755.81" y="973.75" width="6.98" height="6.70" fill="#eda651" />
<rect x="716.63" y="980.00" width="6.98" height="6.70" fill="#e8953a" />
<rect x="723.16" y="980.00" width="6.98" height="6.70" fill="#e8953a" />
<rect x="729.69" y="980.00" width="6.98" height="6.70" fill="#e8953a" />
<rect x="736.22" y="980.00" width="6.98" height="6.70" fill="#e8953a" />
<rect x="742.75" y="980.00" width="6.98" height="6.70" fill="#e8953a" />
<rect x="749.28" y="980.00" width="6.98" height="6.70" fill="#e8953a" />
<rect x="755.81" y="980.00" width="6.98" height="6.70" fill="#eda651" />
<rect x="762.34" y="980.00" width="6.98" height="6.70" fill="#e8953a" />
<rect x="716.63" y="986.25" width="6.98" height="6.70" fill="#e8953a" />
<rect x="723.16" y="986.25" width="6.98" height="6.70" fill="#e8953a" />
<rect x="729.69" y="986.25" width="6.98" height="6.70" fill="#e8953a" />
<rect x="736.22" y="986.25" width="6.98" height="6.70" fill="#e8953a" />
<rect x="742.75" y="986.25" width="6.98" height="6.70" fill="#e8953a" />
<rect x="749.28" y="986.25" width="6.98" height="6.70" fill="#e8953a" />
<rect x="755.81" y="986.25" width="6.98" height="6.70" fill="#e8953a" />
<rect x="762.34" y="986.25" width="6.98" height="6.70" fill="#ede3be" />
<rect x="768.87" y="986.25" width="6.98" height="6.70" fill="#ede3be" />
<rect x="716.63" y="992.50" width="6.98" height="6.70" fill="#ede3be" />
<rect x="723.16" y="992.50" width="6.98" height="6.70" fill="#ede3be" />
<rect x="729.69" y="992.50" width="6.98" height="6.70" fill="#e8953a" />
<rect x="736.22" y="992.50" width="6.98" height="6.70" fill="#ede3be" />
<rect x="742.75" y="992.50" width="6.98" height="6.70" fill="#ede3be" />
<rect x="749.28" y="992.50" width="6.98" height="6.70" fill="#e8953a" />
<rect x="755.81" y="992.50" width="6.98" height="6.70" fill="#ede3be" />
<rect x="762.34" y="992.50" width="6.98" height="6.70" fill="#ede3be" />
<rect x="768.87" y="992.50" width="6.98" height="6.70" fill="#ede3be" />
<rect x="716.63" y="998.75" width="6.98" height="6.70" fill="#c98034" />
<rect x="723.16" y="998.75" width="6.98" height="6.70" fill="#4a2a18" />
<rect x="729.69" y="998.75" width="6.98" height="6.70" fill="#e8953a" />
<rect x="736.22" y="998.75" width="6.98" height="6.70" fill="#4a2a18" />
<rect x="742.75" y="998.75" width="6.98" height="6.70" fill="#c98034" />
<rect x="749.28" y="998.75" width="6.98" height="6.70" fill="#e8953a" />
<rect x="755.81" y="998.75" width="6.98" height="6.70" fill="#ede3be" />
<rect x="762.34" y="998.75" width="6.98" height="6.70" fill="#e8953a" />
<rect x="768.87" y="998.75" width="6.98" height="6.70" fill="#ede3be" />
<rect x="710.10" y="1005.00" width="6.98" height="6.70" fill="#e8953a" />
<rect x="716.63" y="1005.00" width="6.98" height="6.70" fill="#e8953a" />
<rect x="723.16" y="1005.00" width="6.98" height="6.70" fill="#4a2a18" />
<rect x="729.69" y="1005.00" width="6.98" height="6.70" fill="#e8953a" />
<rect x="736.22" y="1005.00" width="6.98" height="6.70" fill="#4a2a18" />
<rect x="742.75" y="1005.00" width="6.98" height="6.70" fill="#e8953a" />
<rect x="749.28" y="1005.00" width="6.98" height="6.70" fill="#e8953a" />
<rect x="755.81" y="1005.00" width="6.98" height="6.70" fill="#e8953a" />
<rect x="762.34" y="1005.00" width="6.98" height="6.70" fill="#e8953a" />
<rect x="768.87" y="1005.00" width="6.98" height="6.70" fill="#ede3be" />
<rect x="710.10" y="1011.25" width="6.98" height="6.70" fill="#e8953a" />
<rect x="716.63" y="1011.25" width="6.98" height="6.70" fill="#e8953a" />
<rect x="723.16" y="1011.25" width="6.98" height="6.70" fill="#e8953a" />
<rect x="729.69" y="1011.25" width="6.98" height="6.70" fill="#e8953a" />
<rect x="736.22" y="1011.25" width="6.98" height="6.70" fill="#e8953a" />
<rect x="742.75" y="1011.25" width="6.98" height="6.70" fill="#e8953a" />
<rect x="749.28" y="1011.25" width="6.98" height="6.70" fill="#e8953a" />
<rect x="755.81" y="1011.25" width="6.98" height="6.70" fill="#e8953a" />
<rect x="762.34" y="1011.25" width="6.98" height="6.70" fill="#e8953a" />
<rect x="768.87" y="1011.25" width="6.98" height="6.70" fill="#ede3be" />
<rect x="710.10" y="1017.50" width="6.98" height="6.70" fill="#e8953a" />
<rect x="716.63" y="1017.50" width="6.98" height="6.70" fill="#e8953a" />
<rect x="723.16" y="1017.50" width="6.98" height="6.70" fill="#4a2a18" />
<rect x="729.69" y="1017.50" width="6.98" height="6.70" fill="#e8953a" />
<rect x="736.22" y="1017.50" width="6.98" height="6.70" fill="#e8953a" />
<rect x="742.75" y="1017.50" width="6.98" height="6.70" fill="#4a2a18" />
<rect x="749.28" y="1017.50" width="6.98" height="6.70" fill="#e8953a" />
<rect x="755.81" y="1017.50" width="6.98" height="6.70" fill="#e8953a" />
<rect x="762.34" y="1017.50" width="6.98" height="6.70" fill="#ede3be" />
<rect x="716.63" y="1023.75" width="6.98" height="6.70" fill="#e8953a" />
<rect x="723.16" y="1023.75" width="6.98" height="6.70" fill="#e8953a" />
<rect x="729.69" y="1023.75" width="6.98" height="6.70" fill="#4a2a18" />
<rect x="736.22" y="1023.75" width="6.98" height="6.70" fill="#4a2a18" />
<rect x="742.75" y="1023.75" width="6.98" height="6.70" fill="#e8953a" />
<rect x="749.28" y="1023.75" width="6.98" height="6.70" fill="#e8953a" />
<rect x="755.81" y="1023.75" width="6.98" height="6.70" fill="#c98034" />
<rect x="762.34" y="1023.75" width="6.98" height="6.70" fill="#ede3be" />
<rect x="716.63" y="1030.00" width="6.98" height="6.70" fill="#d9201c" />
<rect x="723.16" y="1030.00" width="6.98" height="6.70" fill="#e8953a" />
<rect x="729.69" y="1030.00" width="6.98" height="6.70" fill="#e8953a" />
<rect x="736.22" y="1030.00" width="6.98" height="6.70" fill="#e8953a" />
<rect x="742.75" y="1030.00" width="6.98" height="6.70" fill="#e8953a" />
<rect x="749.28" y="1030.00" width="6.98" height="6.70" fill="#c98034" />
<rect x="755.81" y="1030.00" width="6.98" height="6.70" fill="#b51a19" />
<rect x="762.34" y="1030.00" width="6.98" height="6.70" fill="#d9201c" />
<rect x="710.10" y="1036.25" width="6.98" height="6.70" fill="#d9201c" />
<rect x="716.63" y="1036.25" width="6.98" height="6.70" fill="#d9201c" />
<rect x="723.16" y="1036.25" width="6.98" height="6.70" fill="#d9201c" />
<rect x="729.69" y="1036.25" width="6.98" height="6.70" fill="#b51a19" />
<rect x="736.22" y="1036.25" width="6.98" height="6.70" fill="#b51a19" />
<rect x="742.75" y="1036.25" width="6.98" height="6.70" fill="#b51a19" />
<rect x="749.28" y="1036.25" width="6.98" height="6.70" fill="#b51a19" />
<rect x="755.81" y="1036.25" width="6.98" height="6.70" fill="#d9201c" />
<rect x="762.34" y="1036.25" width="6.98" height="6.70" fill="#d9201c" />
<rect x="768.87" y="1036.25" width="6.98" height="6.70" fill="#d9201c" />
<rect x="703.57" y="1042.50" width="6.98" height="6.70" fill="#d9201c" />
<rect x="710.10" y="1042.50" width="6.98" height="6.70" fill="#d9201c" />
<rect x="716.63" y="1042.50" width="6.98" height="6.70" fill="#d9201c" />
<rect x="723.16" y="1042.50" width="6.98" height="6.70" fill="#d9201c" />
<rect x="729.69" y="1042.50" width="6.98" height="6.70" fill="#d9201c" />
<rect x="736.22" y="1042.50" width="6.98" height="6.70" fill="#d9201c" />
<rect x="742.75" y="1042.50" width="6.98" height="6.70" fill="#d9201c" />
<rect x="749.28" y="1042.50" width="6.98" height="6.70" fill="#d9201c" />
<rect x="755.81" y="1042.50" width="6.98" height="6.70" fill="#d9201c" />
<rect x="762.34" y="1042.50" width="6.98" height="6.70" fill="#d9201c" />
<rect x="768.87" y="1042.50" width="6.98" height="6.70" fill="#d9201c" />
<rect x="703.57" y="1048.75" width="6.98" height="6.70" fill="#d9201c" />
<rect x="710.10" y="1048.75" width="6.98" height="6.70" fill="#d9201c" />
<rect x="716.63" y="1048.75" width="6.98" height="6.70" fill="#d9201c" />
<rect x="723.16" y="1048.75" width="6.98" height="6.70" fill="#d9201c" />
<rect x="729.69" y="1048.75" width="6.98" height="6.70" fill="#d9201c" />
<rect x="736.22" y="1048.75" width="6.98" height="6.70" fill="#d9201c" />
<rect x="742.75" y="1048.75" width="6.98" height="6.70" fill="#d9201c" />
<rect x="749.28" y="1048.75" width="6.98" height="6.70" fill="#b51a19" />
<rect x="755.81" y="1048.75" width="6.98" height="6.70" fill="#d9201c" />
<rect x="762.34" y="1048.75" width="6.98" height="6.70" fill="#d9201c" />
<rect x="768.87" y="1048.75" width="6.98" height="6.70" fill="#d9201c" />
<rect x="697.04" y="1055.00" width="6.98" height="6.70" fill="#d9201c" />
<rect x="703.57" y="1055.00" width="6.98" height="6.70" fill="#d9201c" />
<rect x="710.10" y="1055.00" width="6.98" height="6.70" fill="#b51a19" />
<rect x="716.63" y="1055.00" width="6.98" height="6.70" fill="#d9201c" />
<rect x="723.16" y="1055.00" width="6.98" height="6.70" fill="#d9201c" />
<rect x="729.69" y="1055.00" width="6.98" height="6.70" fill="#d9201c" />
<rect x="736.22" y="1055.00" width="6.98" height="6.70" fill="#d9201c" />
<rect x="742.75" y="1055.00" width="6.98" height="6.70" fill="#d9201c" />
<rect x="749.28" y="1055.00" width="6.98" height="6.70" fill="#d9201c" />
<rect x="755.81" y="1055.00" width="6.98" height="6.70" fill="#d9201c" />
<rect x="762.34" y="1055.00" width="6.98" height="6.70" fill="#b51a19" />
<rect x="768.87" y="1055.00" width="6.98" height="6.70" fill="#d9201c" />
<rect x="775.40" y="1055.00" width="6.98" height="6.70" fill="#d9201c" />
<rect x="781.93" y="1055.00" width="6.98" height="6.70" fill="#d9201c" />
<rect x="697.04" y="1061.25" width="6.98" height="6.70" fill="#d9201c" />
<rect x="703.57" y="1061.25" width="6.98" height="6.70" fill="#d9201c" />
<rect x="710.10" y="1061.25" width="6.98" height="6.70" fill="#b51a19" />
<rect x="716.63" y="1061.25" width="6.98" height="6.70" fill="#d9201c" />
<rect x="723.16" y="1061.25" width="6.98" height="6.70" fill="#d9201c" />
<rect x="729.69" y="1061.25" width="6.98" height="6.70" fill="#d9201c" />
<rect x="736.22" y="1061.25" width="6.98" height="6.70" fill="#d9201c" />
<rect x="742.75" y="1061.25" width="6.98" height="6.70" fill="#d9201c" />
<rect x="749.28" y="1061.25" width="6.98" height="6.70" fill="#d9201c" />
<rect x="755.81" y="1061.25" width="6.98" height="6.70" fill="#d9201c" />
<rect x="762.34" y="1061.25" width="6.98" height="6.70" fill="#b51a19" />
<rect x="768.87" y="1061.25" width="6.98" height="6.70" fill="#d9201c" />
<rect x="775.40" y="1061.25" width="6.98" height="6.70" fill="#d9201c" />
<rect x="781.93" y="1061.25" width="6.98" height="6.70" fill="#d9201c" />
<rect x="690.51" y="1067.50" width="6.98" height="6.70" fill="#d9201c" />
<rect x="697.04" y="1067.50" width="6.98" height="6.70" fill="#d9201c" />
<rect x="703.57" y="1067.50" width="6.98" height="6.70" fill="#d9201c" />
<rect x="710.10" y="1067.50" width="6.98" height="6.70" fill="#b51a19" />
<rect x="716.63" y="1067.50" width="6.98" height="6.70" fill="#d9201c" />
<rect x="723.16" y="1067.50" width="6.98" height="6.70" fill="#d9201c" />
<rect x="729.69" y="1067.50" width="6.98" height="6.70" fill="#d9201c" />
<rect x="736.22" y="1067.50" width="6.98" height="6.70" fill="#d9201c" />
<rect x="742.75" y="1067.50" width="6.98" height="6.70" fill="#d9201c" />
<rect x="749.28" y="1067.50" width="6.98" height="6.70" fill="#d9201c" />
<rect x="755.81" y="1067.50" width="6.98" height="6.70" fill="#d9201c" />
<rect x="762.34" y="1067.50" width="6.98" height="6.70" fill="#b51a19" />
<rect x="768.87" y="1067.50" width="6.98" height="6.70" fill="#d9201c" />
<rect x="775.40" y="1067.50" width="6.98" height="6.70" fill="#d9201c" />
<rect x="781.93" y="1067.50" width="6.98" height="6.70" fill="#d9201c" />
<rect x="690.51" y="1073.75" width="6.98" height="6.70" fill="#d9201c" />
<rect x="697.04" y="1073.75" width="6.98" height="6.70" fill="#d9201c" />
<rect x="710.10" y="1073.75" width="6.98" height="6.70" fill="#b51a19" />
<rect x="716.63" y="1073.75" width="6.98" height="6.70" fill="#d9201c" />
<rect x="723.16" y="1073.75" width="6.98" height="6.70" fill="#d9201c" />
<rect x="729.69" y="1073.75" width="6.98" height="6.70" fill="#d9201c" />
<rect x="736.22" y="1073.75" width="6.98" height="6.70" fill="#d9201c" />
<rect x="742.75" y="1073.75" width="6.98" height="6.70" fill="#d9201c" />
<rect x="749.28" y="1073.75" width="6.98" height="6.70" fill="#d9201c" />
<rect x="755.81" y="1073.75" width="6.98" height="6.70" fill="#b51a19" />
<rect x="762.34" y="1073.75" width="6.98" height="6.70" fill="#d9201c" />
<rect x="768.87" y="1073.75" width="6.98" height="6.70" fill="#d9201c" />
<rect x="775.40" y="1073.75" width="6.98" height="6.70" fill="#d9201c" />
<rect x="683.98" y="1080.00" width="6.98" height="6.70" fill="#e8953a" />
<rect x="690.51" y="1080.00" width="6.98" height="6.70" fill="#e8953a" />
<rect x="716.63" y="1080.00" width="6.98" height="6.70" fill="#0f1b27" />
<rect x="723.16" y="1080.00" width="6.98" height="6.70" fill="#0f1b27" />
<rect x="729.69" y="1080.00" width="6.98" height="6.70" fill="#0f1b27" />
<rect x="736.22" y="1080.00" width="6.98" height="6.70" fill="#0f1b27" />
<rect x="742.75" y="1080.00" width="6.98" height="6.70" fill="#0f1b27" />
<rect x="749.28" y="1080.00" width="6.98" height="6.70" fill="#0f1b27" />
<rect x="755.81" y="1080.00" width="6.98" height="6.70" fill="#0f1b27" />
<rect x="762.34" y="1080.00" width="6.98" height="6.70" fill="#e8953a" />
<rect x="768.87" y="1080.00" width="6.98" height="6.70" fill="#e8953a" />
<rect x="683.98" y="1086.25" width="6.98" height="6.70" fill="#e8953a" />
<rect x="690.51" y="1086.25" width="6.98" height="6.70" fill="#3f2215" />
<rect x="710.10" y="1086.25" width="6.98" height="6.70" fill="#a58937" />
<rect x="716.63" y="1086.25" width="6.98" height="6.70" fill="#a58937" />
<rect x="723.16" y="1086.25" width="6.98" height="6.70" fill="#a58937" />
<rect x="729.69" y="1086.25" width="6.98" height="6.70" fill="#a58937" />
<rect x="736.22" y="1086.25" width="6.98" height="6.70" fill="#a58937" />
<rect x="742.75" y="1086.25" width="6.98" height="6.70" fill="#a58937" />
<rect x="749.28" y="1086.25" width="6.98" height="6.70" fill="#866d2b" />
<rect x="755.81" y="1086.25" width="6.98" height="6.70" fill="#e8953a" />
<rect x="762.34" y="1086.25" width="6.98" height="6.70" fill="#e8953a" />
<rect x="768.87" y="1086.25" width="6.98" height="6.70" fill="#e8953a" />
<rect x="690.51" y="1092.50" width="6.98" height="6.70" fill="#3f2215" />
<rect x="710.10" y="1092.50" width="6.98" height="6.70" fill="#a58937" />
<rect x="716.63" y="1092.50" width="6.98" height="6.70" fill="#a58937" />
<rect x="723.16" y="1092.50" width="6.98" height="6.70" fill="#a58937" />
<rect x="729.69" y="1092.50" width="6.98" height="6.70" fill="#a58937" />
<rect x="736.22" y="1092.50" width="6.98" height="6.70" fill="#a58937" />
<rect x="742.75" y="1092.50" width="6.98" height="6.70" fill="#a58937" />
<rect x="749.28" y="1092.50" width="6.98" height="6.70" fill="#a58937" />
<rect x="755.81" y="1092.50" width="6.98" height="6.70" fill="#866d2b" />
<rect x="762.34" y="1092.50" width="6.98" height="6.70" fill="#e8953a" />
<rect x="768.87" y="1092.50" width="6.98" height="6.70" fill="#e8953a" />
<rect x="690.51" y="1098.75" width="6.98" height="6.70" fill="#3f2215" />
<rect x="710.10" y="1098.75" width="6.98" height="6.70" fill="#a58937" />
<rect x="716.63" y="1098.75" width="6.98" height="6.70" fill="#a58937" />
<rect x="723.16" y="1098.75" width="6.98" height="6.70" fill="#a58937" />
<rect x="729.69" y="1098.75" width="6.98" height="6.70" fill="#866d2b" />
<rect x="742.75" y="1098.75" width="6.98" height="6.70" fill="#a58937" />
<rect x="749.28" y="1098.75" width="6.98" height="6.70" fill="#a58937" />
<rect x="755.81" y="1098.75" width="6.98" height="6.70" fill="#a58937" />
<rect x="762.34" y="1098.75" width="6.98" height="6.70" fill="#866d2b" />
<rect x="690.51" y="1105.00" width="6.98" height="6.70" fill="#3f2215" />
<rect x="710.10" y="1105.00" width="6.98" height="6.70" fill="#a58937" />
<rect x="716.63" y="1105.00" width="6.98" height="6.70" fill="#a58937" />
<rect x="723.16" y="1105.00" width="6.98" height="6.70" fill="#a58937" />
<rect x="729.69" y="1105.00" width="6.98" height="6.70" fill="#866d2b" />
<rect x="742.75" y="1105.00" width="6.98" height="6.70" fill="#a58937" />
<rect x="749.28" y="1105.00" width="6.98" height="6.70" fill="#a58937" />
<rect x="755.81" y="1105.00" width="6.98" height="6.70" fill="#a58937" />
<rect x="762.34" y="1105.00" width="6.98" height="6.70" fill="#866d2b" />
<rect x="690.51" y="1111.25" width="6.98" height="6.70" fill="#3f2215" />
<rect x="710.10" y="1111.25" width="6.98" height="6.70" fill="#a58937" />
<rect x="716.63" y="1111.25" width="6.98" height="6.70" fill="#a58937" />
<rect x="723.16" y="1111.25" width="6.98" height="6.70" fill="#866d2b" />
<rect x="742.75" y="1111.25" width="6.98" height="6.70" fill="#a58937" />
<rect x="749.28" y="1111.25" width="6.98" height="6.70" fill="#a58937" />
<rect x="755.81" y="1111.25" width="6.98" height="6.70" fill="#a58937" />
<rect x="762.34" y="1111.25" width="6.98" height="6.70" fill="#a58937" />
<rect x="690.51" y="1117.50" width="6.98" height="6.70" fill="#3f2215" />
<rect x="710.10" y="1117.50" width="6.98" height="6.70" fill="#a58937" />
<rect x="716.63" y="1117.50" width="6.98" height="6.70" fill="#a58937" />
<rect x="723.16" y="1117.50" width="6.98" height="6.70" fill="#866d2b" />
<rect x="749.28" y="1117.50" width="6.98" height="6.70" fill="#a58937" />
<rect x="755.81" y="1117.50" width="6.98" height="6.70" fill="#a58937" />
<rect x="762.34" y="1117.50" width="6.98" height="6.70" fill="#a58937" />
<rect x="768.87" y="1117.50" width="6.98" height="6.70" fill="#866d2b" />
<rect x="690.51" y="1123.75" width="6.98" height="6.70" fill="#3f2215" />
<rect x="710.10" y="1123.75" width="6.98" height="6.70" fill="#a58937" />
<rect x="716.63" y="1123.75" width="6.98" height="6.70" fill="#a58937" />
<rect x="723.16" y="1123.75" width="6.98" height="6.70" fill="#866d2b" />
<rect x="749.28" y="1123.75" width="6.98" height="6.70" fill="#a58937" />
<rect x="755.81" y="1123.75" width="6.98" height="6.70" fill="#a58937" />
<rect x="762.34" y="1123.75" width="6.98" height="6.70" fill="#a58937" />
<rect x="768.87" y="1123.75" width="6.98" height="6.70" fill="#866d2b" />
<rect x="690.51" y="1130.00" width="6.98" height="6.70" fill="#3f2215" />
<rect x="710.10" y="1130.00" width="6.98" height="6.70" fill="#a58937" />
<rect x="716.63" y="1130.00" width="6.98" height="6.70" fill="#a58937" />
<rect x="723.16" y="1130.00" width="6.98" height="6.70" fill="#866d2b" />
<rect x="749.28" y="1130.00" width="6.98" height="6.70" fill="#a58937" />
<rect x="755.81" y="1130.00" width="6.98" height="6.70" fill="#a58937" />
<rect x="762.34" y="1130.00" width="6.98" height="6.70" fill="#a58937" />
<rect x="768.87" y="1130.00" width="6.98" height="6.70" fill="#866d2b" />
<rect x="690.51" y="1136.25" width="6.98" height="6.70" fill="#3f2215" />
<rect x="703.57" y="1136.25" width="6.98" height="6.70" fill="#3f2215" />
<rect x="710.10" y="1136.25" width="6.98" height="6.70" fill="#3f2215" />
<rect x="716.63" y="1136.25" width="6.98" height="6.70" fill="#3f2215" />
<rect x="723.16" y="1136.25" width="6.98" height="6.70" fill="#3f2215" />
<rect x="742.75" y="1136.25" width="6.98" height="6.70" fill="#3f2215" />
<rect x="749.28" y="1136.25" width="6.98" height="6.70" fill="#3f2215" />
<rect x="755.81" y="1136.25" width="6.98" height="6.70" fill="#3f2215" />
<rect x="762.34" y="1136.25" width="6.98" height="6.70" fill="#3f2215" />
<rect x="6.00" y="1141.00" width="120.00" height="53.00" fill="#ffffff" />
<rect x="8.75" y="1143.60" width="30.65" height="30.20" fill="#ea1d24" />
<rect x="39.40" y="1143.60" width="84.60" height="30.20" fill="#141c5c" />
<defs><linearGradient id="lg" x1="0" x2="1" y1="0" y2="0"><stop offset="0" stop-color="#f6a01a"/><stop offset="1" stop-color="#fbd20a"/></linearGradient></defs>
<rect x="8.75" y="1173.80" width="115.25" height="17.70" fill="url(#lg)" />
<circle cx="24.1" cy="1159" r="12.1" fill="#f1e7d2"/><circle cx="24.1" cy="1159" r="10.5" fill="none" stroke="#d9503f" stroke-width="1.1" stroke-dasharray="1.1 1.3"/><circle cx="24.1" cy="1159" r="9" fill="#e8161c"/>
<path d="M24.10,1151.80 L25.48,1155.67 L29.19,1153.91 L27.43,1157.62 L31.30,1159.00 L27.43,1160.38 L29.19,1164.09 L25.48,1162.33 L24.10,1166.20 L22.72,1162.33 L19.01,1164.09 L20.77,1160.38 L16.90,1159.00 L20.77,1157.62 L19.01,1153.91 L22.72,1155.67Z" fill="#f2eedb"/><circle cx="24.1" cy="1159" r="3.7" fill="#6a1838"/><circle cx="24.1" cy="1159" r="1.3" fill="#fff"/>
<rect x="133.00" y="1141.00" width="1.50" height="54.00" fill="#d2d9d7" />
<rect x="739.50" y="1138.70" width="54.50" height="54.40" fill="#ffffff" />
<rect x="741.90" y="1141.10" width="2.05" height="2.05" fill="#111" />
<rect x="743.90" y="1141.10" width="2.05" height="2.05" fill="#111" />
<rect x="745.90" y="1141.10" width="2.05" height="2.05" fill="#111" />
<rect x="747.90" y="1141.10" width="2.05" height="2.05" fill="#111" />
<rect x="749.90" y="1141.10" width="2.05" height="2.05" fill="#111" />
<rect x="751.90" y="1141.10" width="2.05" height="2.05" fill="#111" />
<rect x="753.90" y="1141.10" width="2.05" height="2.05" fill="#111" />
<rect x="761.90" y="1141.10" width="2.05" height="2.05" fill="#111" />
<rect x="763.90" y="1141.10" width="2.05" height="2.05" fill="#111" />
<rect x="765.90" y="1141.10" width="2.05" height="2.05" fill="#111" />
<rect x="771.90" y="1141.10" width="2.05" height="2.05" fill="#111" />
<rect x="777.90" y="1141.10" width="2.05" height="2.05" fill="#111" />
<rect x="779.90" y="1141.10" width="2.05" height="2.05" fill="#111" />
<rect x="781.90" y="1141.10" width="2.05" height="2.05" fill="#111" />
<rect x="783.90" y="1141.10" width="2.05" height="2.05" fill="#111" />
<rect x="785.90" y="1141.10" width="2.05" height="2.05" fill="#111" />
<rect x="787.90" y="1141.10" width="2.05" height="2.05" fill="#111" />
<rect x="789.90" y="1141.10" width="2.05" height="2.05" fill="#111" />
<rect x="741.90" y="1143.10" width="2.05" height="2.05" fill="#111" />
<rect x="753.90" y="1143.10" width="2.05" height="2.05" fill="#111" />
<rect x="759.90" y="1143.10" width="2.05" height="2.05" fill="#111" />
<rect x="761.90" y="1143.10" width="2.05" height="2.05" fill="#111" />
<rect x="771.90" y="1143.10" width="2.05" height="2.05" fill="#111" />
<rect x="773.90" y="1143.10" width="2.05" height="2.05" fill="#111" />
<rect x="777.90" y="1143.10" width="2.05" height="2.05" fill="#111" />
<rect x="789.90" y="1143.10" width="2.05" height="2.05" fill="#111" />
<rect x="741.90" y="1145.10" width="2.05" height="2.05" fill="#111" />
<rect x="745.90" y="1145.10" width="2.05" height="2.05" fill="#111" />
<rect x="747.90" y="1145.10" width="2.05" height="2.05" fill="#111" />
<rect x="749.90" y="1145.10" width="2.05" height="2.05" fill="#111" />
<rect x="753.90" y="1145.10" width="2.05" height="2.05" fill="#111" />
<rect x="759.90" y="1145.10" width="2.05" height="2.05" fill="#111" />
<rect x="761.90" y="1145.10" width="2.05" height="2.05" fill="#111" />
<rect x="763.90" y="1145.10" width="2.05" height="2.05" fill="#111" />
<rect x="769.90" y="1145.10" width="2.05" height="2.05" fill="#111" />
<rect x="771.90" y="1145.10" width="2.05" height="2.05" fill="#111" />
<rect x="773.90" y="1145.10" width="2.05" height="2.05" fill="#111" />
<rect x="777.90" y="1145.10" width="2.05" height="2.05" fill="#111" />
<rect x="781.90" y="1145.10" width="2.05" height="2.05" fill="#111" />
<rect x="783.90" y="1145.10" width="2.05" height="2.05" fill="#111" />
<rect x="785.90" y="1145.10" width="2.05" height="2.05" fill="#111" />
<rect x="789.90" y="1145.10" width="2.05" height="2.05" fill="#111" />
<rect x="741.90" y="1147.10" width="2.05" height="2.05" fill="#111" />
<rect x="745.90" y="1147.10" width="2.05" height="2.05" fill="#111" />
<rect x="747.90" y="1147.10" width="2.05" height="2.05" fill="#111" />
<rect x="749.90" y="1147.10" width="2.05" height="2.05" fill="#111" />
<rect x="753.90" y="1147.10" width="2.05" height="2.05" fill="#111" />
<rect x="759.90" y="1147.10" width="2.05" height="2.05" fill="#111" />
<rect x="761.90" y="1147.10" width="2.05" height="2.05" fill="#111" />
<rect x="767.90" y="1147.10" width="2.05" height="2.05" fill="#111" />
<rect x="771.90" y="1147.10" width="2.05" height="2.05" fill="#111" />
<rect x="773.90" y="1147.10" width="2.05" height="2.05" fill="#111" />
<rect x="777.90" y="1147.10" width="2.05" height="2.05" fill="#111" />
<rect x="781.90" y="1147.10" width="2.05" height="2.05" fill="#111" />
<rect x="783.90" y="1147.10" width="2.05" height="2.05" fill="#111" />
<rect x="785.90" y="1147.10" width="2.05" height="2.05" fill="#111" />
<rect x="789.90" y="1147.10" width="2.05" height="2.05" fill="#111" />
<rect x="741.90" y="1149.10" width="2.05" height="2.05" fill="#111" />
<rect x="745.90" y="1149.10" width="2.05" height="2.05" fill="#111" />
<rect x="747.90" y="1149.10" width="2.05" height="2.05" fill="#111" />
<rect x="749.90" y="1149.10" width="2.05" height="2.05" fill="#111" />
<rect x="753.90" y="1149.10" width="2.05" height="2.05" fill="#111" />
<rect x="761.90" y="1149.10" width="2.05" height="2.05" fill="#111" />
<rect x="763.90" y="1149.10" width="2.05" height="2.05" fill="#111" />
<rect x="769.90" y="1149.10" width="2.05" height="2.05" fill="#111" />
<rect x="777.90" y="1149.10" width="2.05" height="2.05" fill="#111" />
<rect x="781.90" y="1149.10" width="2.05" height="2.05" fill="#111" />
<rect x="783.90" y="1149.10" width="2.05" height="2.05" fill="#111" />
<rect x="785.90" y="1149.10" width="2.05" height="2.05" fill="#111" />
<rect x="789.90" y="1149.10" width="2.05" height="2.05" fill="#111" />
<rect x="741.90" y="1151.10" width="2.05" height="2.05" fill="#111" />
<rect x="753.90" y="1151.10" width="2.05" height="2.05" fill="#111" />
<rect x="761.90" y="1151.10" width="2.05" height="2.05" fill="#111" />
<rect x="765.90" y="1151.10" width="2.05" height="2.05" fill="#111" />
<rect x="767.90" y="1151.10" width="2.05" height="2.05" fill="#111" />
<rect x="769.90" y="1151.10" width="2.05" height="2.05" fill="#111" />
<rect x="771.90" y="1151.10" width="2.05" height="2.05" fill="#111" />
<rect x="773.90" y="1151.10" width="2.05" height="2.05" fill="#111" />
<rect x="777.90" y="1151.10" width="2.05" height="2.05" fill="#111" />
<rect x="789.90" y="1151.10" width="2.05" height="2.05" fill="#111" />
<rect x="741.90" y="1153.10" width="2.05" height="2.05" fill="#111" />
<rect x="743.90" y="1153.10" width="2.05" height="2.05" fill="#111" />
<rect x="745.90" y="1153.10" width="2.05" height="2.05" fill="#111" />
<rect x="747.90" y="1153.10" width="2.05" height="2.05" fill="#111" />
<rect x="749.90" y="1153.10" width="2.05" height="2.05" fill="#111" />
<rect x="751.90" y="1153.10" width="2.05" height="2.05" fill="#111" />
<rect x="753.90" y="1153.10" width="2.05" height="2.05" fill="#111" />
<rect x="757.90" y="1153.10" width="2.05" height="2.05" fill="#111" />
<rect x="761.90" y="1153.10" width="2.05" height="2.05" fill="#111" />
<rect x="765.90" y="1153.10" width="2.05" height="2.05" fill="#111" />
<rect x="769.90" y="1153.10" width="2.05" height="2.05" fill="#111" />
<rect x="777.90" y="1153.10" width="2.05" height="2.05" fill="#111" />
<rect x="779.90" y="1153.10" width="2.05" height="2.05" fill="#111" />
<rect x="781.90" y="1153.10" width="2.05" height="2.05" fill="#111" />
<rect x="783.90" y="1153.10" width="2.05" height="2.05" fill="#111" />
<rect x="785.90" y="1153.10" width="2.05" height="2.05" fill="#111" />
<rect x="787.90" y="1153.10" width="2.05" height="2.05" fill="#111" />
<rect x="789.90" y="1153.10" width="2.05" height="2.05" fill="#111" />
<rect x="759.90" y="1155.10" width="2.05" height="2.05" fill="#111" />
<rect x="769.90" y="1155.10" width="2.05" height="2.05" fill="#111" />
<rect x="743.90" y="1157.10" width="2.05" height="2.05" fill="#111" />
<rect x="749.90" y="1157.10" width="2.05" height="2.05" fill="#111" />
<rect x="751.90" y="1157.10" width="2.05" height="2.05" fill="#111" />
<rect x="753.90" y="1157.10" width="2.05" height="2.05" fill="#111" />
<rect x="757.90" y="1157.10" width="2.05" height="2.05" fill="#111" />
<rect x="759.90" y="1157.10" width="2.05" height="2.05" fill="#111" />
<rect x="765.90" y="1157.10" width="2.05" height="2.05" fill="#111" />
<rect x="769.90" y="1157.10" width="2.05" height="2.05" fill="#111" />
<rect x="773.90" y="1157.10" width="2.05" height="2.05" fill="#111" />
<rect x="775.90" y="1157.10" width="2.05" height="2.05" fill="#111" />
<rect x="783.90" y="1157.10" width="2.05" height="2.05" fill="#111" />
<rect x="787.90" y="1157.10" width="2.05" height="2.05" fill="#111" />
<rect x="789.90" y="1157.10" width="2.05" height="2.05" fill="#111" />
<rect x="741.90" y="1159.10" width="2.05" height="2.05" fill="#111" />
<rect x="751.90" y="1159.10" width="2.05" height="2.05" fill="#111" />
<rect x="753.90" y="1159.10" width="2.05" height="2.05" fill="#111" />
<rect x="755.90" y="1159.10" width="2.05" height="2.05" fill="#111" />
<rect x="757.90" y="1159.10" width="2.05" height="2.05" fill="#111" />
<rect x="759.90" y="1159.10" width="2.05" height="2.05" fill="#111" />
<rect x="761.90" y="1159.10" width="2.05" height="2.05" fill="#111" />
<rect x="765.90" y="1159.10" width="2.05" height="2.05" fill="#111" />
<rect x="767.90" y="1159.10" width="2.05" height="2.05" fill="#111" />
<rect x="773.90" y="1159.10" width="2.05" height="2.05" fill="#111" />
<rect x="775.90" y="1159.10" width="2.05" height="2.05" fill="#111" />
<rect x="777.90" y="1159.10" width="2.05" height="2.05" fill="#111" />
<rect x="781.90" y="1159.10" width="2.05" height="2.05" fill="#111" />
<rect x="787.90" y="1159.10" width="2.05" height="2.05" fill="#111" />
<rect x="741.90" y="1161.10" width="2.05" height="2.05" fill="#111" />
<rect x="743.90" y="1161.10" width="2.05" height="2.05" fill="#111" />
<rect x="745.90" y="1161.10" width="2.05" height="2.05" fill="#111" />
<rect x="747.90" y="1161.10" width="2.05" height="2.05" fill="#111" />
<rect x="751.90" y="1161.10" width="2.05" height="2.05" fill="#111" />
<rect x="753.90" y="1161.10" width="2.05" height="2.05" fill="#111" />
<rect x="755.90" y="1161.10" width="2.05" height="2.05" fill="#111" />
<rect x="759.90" y="1161.10" width="2.05" height="2.05" fill="#111" />
<rect x="771.90" y="1161.10" width="2.05" height="2.05" fill="#111" />
<rect x="773.90" y="1161.10" width="2.05" height="2.05" fill="#111" />
<rect x="775.90" y="1161.10" width="2.05" height="2.05" fill="#111" />
<rect x="777.90" y="1161.10" width="2.05" height="2.05" fill="#111" />
<rect x="779.90" y="1161.10" width="2.05" height="2.05" fill="#111" />
<rect x="783.90" y="1161.10" width="2.05" height="2.05" fill="#111" />
<rect x="785.90" y="1161.10" width="2.05" height="2.05" fill="#111" />
<rect x="787.90" y="1161.10" width="2.05" height="2.05" fill="#111" />
<rect x="747.90" y="1163.10" width="2.05" height="2.05" fill="#111" />
<rect x="753.90" y="1163.10" width="2.05" height="2.05" fill="#111" />
<rect x="759.90" y="1163.10" width="2.05" height="2.05" fill="#111" />
<rect x="761.90" y="1163.10" width="2.05" height="2.05" fill="#111" />
<rect x="767.90" y="1163.10" width="2.05" height="2.05" fill="#111" />
<rect x="777.90" y="1163.10" width="2.05" height="2.05" fill="#111" />
<rect x="781.90" y="1163.10" width="2.05" height="2.05" fill="#111" />
<rect x="741.90" y="1165.10" width="2.05" height="2.05" fill="#111" />
<rect x="753.90" y="1165.10" width="2.05" height="2.05" fill="#111" />
<rect x="759.90" y="1165.10" width="2.05" height="2.05" fill="#111" />
<rect x="761.90" y="1165.10" width="2.05" height="2.05" fill="#111" />
<rect x="763.90" y="1165.10" width="2.05" height="2.05" fill="#111" />
<rect x="769.90" y="1165.10" width="2.05" height="2.05" fill="#111" />
<rect x="771.90" y="1165.10" width="2.05" height="2.05" fill="#111" />
<rect x="775.90" y="1165.10" width="2.05" height="2.05" fill="#111" />
<rect x="779.90" y="1165.10" width="2.05" height="2.05" fill="#111" />
<rect x="781.90" y="1165.10" width="2.05" height="2.05" fill="#111" />
<rect x="785.90" y="1165.10" width="2.05" height="2.05" fill="#111" />
<rect x="787.90" y="1165.10" width="2.05" height="2.05" fill="#111" />
<rect x="749.90" y="1167.10" width="2.05" height="2.05" fill="#111" />
<rect x="753.90" y="1167.10" width="2.05" height="2.05" fill="#111" />
<rect x="755.90" y="1167.10" width="2.05" height="2.05" fill="#111" />
<rect x="759.90" y="1167.10" width="2.05" height="2.05" fill="#111" />
<rect x="771.90" y="1167.10" width="2.05" height="2.05" fill="#111" />
<rect x="773.90" y="1167.10" width="2.05" height="2.05" fill="#111" />
<rect x="779.90" y="1167.10" width="2.05" height="2.05" fill="#111" />
<rect x="789.90" y="1167.10" width="2.05" height="2.05" fill="#111" />
<rect x="747.90" y="1169.10" width="2.05" height="2.05" fill="#111" />
<rect x="753.90" y="1169.10" width="2.05" height="2.05" fill="#111" />
<rect x="759.90" y="1169.10" width="2.05" height="2.05" fill="#111" />
<rect x="763.90" y="1169.10" width="2.05" height="2.05" fill="#111" />
<rect x="767.90" y="1169.10" width="2.05" height="2.05" fill="#111" />
<rect x="773.90" y="1169.10" width="2.05" height="2.05" fill="#111" />
<rect x="775.90" y="1169.10" width="2.05" height="2.05" fill="#111" />
<rect x="777.90" y="1169.10" width="2.05" height="2.05" fill="#111" />
<rect x="779.90" y="1169.10" width="2.05" height="2.05" fill="#111" />
<rect x="785.90" y="1169.10" width="2.05" height="2.05" fill="#111" />
<rect x="787.90" y="1169.10" width="2.05" height="2.05" fill="#111" />
<rect x="789.90" y="1169.10" width="2.05" height="2.05" fill="#111" />
<rect x="745.90" y="1171.10" width="2.05" height="2.05" fill="#111" />
<rect x="749.90" y="1171.10" width="2.05" height="2.05" fill="#111" />
<rect x="751.90" y="1171.10" width="2.05" height="2.05" fill="#111" />
<rect x="753.90" y="1171.10" width="2.05" height="2.05" fill="#111" />
<rect x="757.90" y="1171.10" width="2.05" height="2.05" fill="#111" />
<rect x="759.90" y="1171.10" width="2.05" height="2.05" fill="#111" />
<rect x="763.90" y="1171.10" width="2.05" height="2.05" fill="#111" />
<rect x="767.90" y="1171.10" width="2.05" height="2.05" fill="#111" />
<rect x="771.90" y="1171.10" width="2.05" height="2.05" fill="#111" />
<rect x="773.90" y="1171.10" width="2.05" height="2.05" fill="#111" />
<rect x="777.90" y="1171.10" width="2.05" height="2.05" fill="#111" />
<rect x="779.90" y="1171.10" width="2.05" height="2.05" fill="#111" />
<rect x="781.90" y="1171.10" width="2.05" height="2.05" fill="#111" />
<rect x="785.90" y="1171.10" width="2.05" height="2.05" fill="#111" />
<rect x="787.90" y="1171.10" width="2.05" height="2.05" fill="#111" />
<rect x="751.90" y="1173.10" width="2.05" height="2.05" fill="#111" />
<rect x="759.90" y="1173.10" width="2.05" height="2.05" fill="#111" />
<rect x="761.90" y="1173.10" width="2.05" height="2.05" fill="#111" />
<rect x="765.90" y="1173.10" width="2.05" height="2.05" fill="#111" />
<rect x="771.90" y="1173.10" width="2.05" height="2.05" fill="#111" />
<rect x="773.90" y="1173.10" width="2.05" height="2.05" fill="#111" />
<rect x="775.90" y="1173.10" width="2.05" height="2.05" fill="#111" />
<rect x="777.90" y="1173.10" width="2.05" height="2.05" fill="#111" />
<rect x="779.90" y="1173.10" width="2.05" height="2.05" fill="#111" />
<rect x="781.90" y="1173.10" width="2.05" height="2.05" fill="#111" />
<rect x="783.90" y="1173.10" width="2.05" height="2.05" fill="#111" />
<rect x="787.90" y="1173.10" width="2.05" height="2.05" fill="#111" />
<rect x="789.90" y="1173.10" width="2.05" height="2.05" fill="#111" />
<rect x="763.90" y="1175.10" width="2.05" height="2.05" fill="#111" />
<rect x="765.90" y="1175.10" width="2.05" height="2.05" fill="#111" />
<rect x="767.90" y="1175.10" width="2.05" height="2.05" fill="#111" />
<rect x="769.90" y="1175.10" width="2.05" height="2.05" fill="#111" />
<rect x="773.90" y="1175.10" width="2.05" height="2.05" fill="#111" />
<rect x="781.90" y="1175.10" width="2.05" height="2.05" fill="#111" />
<rect x="789.90" y="1175.10" width="2.05" height="2.05" fill="#111" />
<rect x="741.90" y="1177.10" width="2.05" height="2.05" fill="#111" />
<rect x="743.90" y="1177.10" width="2.05" height="2.05" fill="#111" />
<rect x="745.90" y="1177.10" width="2.05" height="2.05" fill="#111" />
<rect x="747.90" y="1177.10" width="2.05" height="2.05" fill="#111" />
<rect x="749.90" y="1177.10" width="2.05" height="2.05" fill="#111" />
<rect x="751.90" y="1177.10" width="2.05" height="2.05" fill="#111" />
<rect x="753.90" y="1177.10" width="2.05" height="2.05" fill="#111" />
<rect x="759.90" y="1177.10" width="2.05" height="2.05" fill="#111" />
<rect x="765.90" y="1177.10" width="2.05" height="2.05" fill="#111" />
<rect x="767.90" y="1177.10" width="2.05" height="2.05" fill="#111" />
<rect x="771.90" y="1177.10" width="2.05" height="2.05" fill="#111" />
<rect x="773.90" y="1177.10" width="2.05" height="2.05" fill="#111" />
<rect x="777.90" y="1177.10" width="2.05" height="2.05" fill="#111" />
<rect x="781.90" y="1177.10" width="2.05" height="2.05" fill="#111" />
<rect x="741.90" y="1179.10" width="2.05" height="2.05" fill="#111" />
<rect x="753.90" y="1179.10" width="2.05" height="2.05" fill="#111" />
<rect x="761.90" y="1179.10" width="2.05" height="2.05" fill="#111" />
<rect x="773.90" y="1179.10" width="2.05" height="2.05" fill="#111" />
<rect x="781.90" y="1179.10" width="2.05" height="2.05" fill="#111" />
<rect x="783.90" y="1179.10" width="2.05" height="2.05" fill="#111" />
<rect x="785.90" y="1179.10" width="2.05" height="2.05" fill="#111" />
<rect x="741.90" y="1181.10" width="2.05" height="2.05" fill="#111" />
<rect x="745.90" y="1181.10" width="2.05" height="2.05" fill="#111" />
<rect x="747.90" y="1181.10" width="2.05" height="2.05" fill="#111" />
<rect x="749.90" y="1181.10" width="2.05" height="2.05" fill="#111" />
<rect x="753.90" y="1181.10" width="2.05" height="2.05" fill="#111" />
<rect x="767.90" y="1181.10" width="2.05" height="2.05" fill="#111" />
<rect x="773.90" y="1181.10" width="2.05" height="2.05" fill="#111" />
<rect x="775.90" y="1181.10" width="2.05" height="2.05" fill="#111" />
<rect x="777.90" y="1181.10" width="2.05" height="2.05" fill="#111" />
<rect x="779.90" y="1181.10" width="2.05" height="2.05" fill="#111" />
<rect x="781.90" y="1181.10" width="2.05" height="2.05" fill="#111" />
<rect x="783.90" y="1181.10" width="2.05" height="2.05" fill="#111" />
<rect x="785.90" y="1181.10" width="2.05" height="2.05" fill="#111" />
<rect x="741.90" y="1183.10" width="2.05" height="2.05" fill="#111" />
<rect x="745.90" y="1183.10" width="2.05" height="2.05" fill="#111" />
<rect x="747.90" y="1183.10" width="2.05" height="2.05" fill="#111" />
<rect x="749.90" y="1183.10" width="2.05" height="2.05" fill="#111" />
<rect x="753.90" y="1183.10" width="2.05" height="2.05" fill="#111" />
<rect x="759.90" y="1183.10" width="2.05" height="2.05" fill="#111" />
<rect x="763.90" y="1183.10" width="2.05" height="2.05" fill="#111" />
<rect x="765.90" y="1183.10" width="2.05" height="2.05" fill="#111" />
<rect x="767.90" y="1183.10" width="2.05" height="2.05" fill="#111" />
<rect x="769.90" y="1183.10" width="2.05" height="2.05" fill="#111" />
<rect x="773.90" y="1183.10" width="2.05" height="2.05" fill="#111" />
<rect x="777.90" y="1183.10" width="2.05" height="2.05" fill="#111" />
<rect x="783.90" y="1183.10" width="2.05" height="2.05" fill="#111" />
<rect x="785.90" y="1183.10" width="2.05" height="2.05" fill="#111" />
<rect x="741.90" y="1185.10" width="2.05" height="2.05" fill="#111" />
<rect x="745.90" y="1185.10" width="2.05" height="2.05" fill="#111" />
<rect x="747.90" y="1185.10" width="2.05" height="2.05" fill="#111" />
<rect x="749.90" y="1185.10" width="2.05" height="2.05" fill="#111" />
<rect x="753.90" y="1185.10" width="2.05" height="2.05" fill="#111" />
<rect x="757.90" y="1185.10" width="2.05" height="2.05" fill="#111" />
<rect x="763.90" y="1185.10" width="2.05" height="2.05" fill="#111" />
<rect x="769.90" y="1185.10" width="2.05" height="2.05" fill="#111" />
<rect x="773.90" y="1185.10" width="2.05" height="2.05" fill="#111" />
<rect x="775.90" y="1185.10" width="2.05" height="2.05" fill="#111" />
<rect x="779.90" y="1185.10" width="2.05" height="2.05" fill="#111" />
<rect x="787.90" y="1185.10" width="2.05" height="2.05" fill="#111" />
<rect x="741.90" y="1187.10" width="2.05" height="2.05" fill="#111" />
<rect x="753.90" y="1187.10" width="2.05" height="2.05" fill="#111" />
<rect x="757.90" y="1187.10" width="2.05" height="2.05" fill="#111" />
<rect x="759.90" y="1187.10" width="2.05" height="2.05" fill="#111" />
<rect x="763.90" y="1187.10" width="2.05" height="2.05" fill="#111" />
<rect x="765.90" y="1187.10" width="2.05" height="2.05" fill="#111" />
<rect x="769.90" y="1187.10" width="2.05" height="2.05" fill="#111" />
<rect x="781.90" y="1187.10" width="2.05" height="2.05" fill="#111" />
<rect x="783.90" y="1187.10" width="2.05" height="2.05" fill="#111" />
<rect x="741.90" y="1189.10" width="2.05" height="2.05" fill="#111" />
<rect x="743.90" y="1189.10" width="2.05" height="2.05" fill="#111" />
<rect x="745.90" y="1189.10" width="2.05" height="2.05" fill="#111" />
<rect x="747.90" y="1189.10" width="2.05" height="2.05" fill="#111" />
<rect x="749.90" y="1189.10" width="2.05" height="2.05" fill="#111" />
<rect x="751.90" y="1189.10" width="2.05" height="2.05" fill="#111" />
<rect x="753.90" y="1189.10" width="2.05" height="2.05" fill="#111" />
<rect x="757.90" y="1189.10" width="2.05" height="2.05" fill="#111" />
<rect x="765.90" y="1189.10" width="2.05" height="2.05" fill="#111" />
<rect x="767.90" y="1189.10" width="2.05" height="2.05" fill="#111" />
<rect x="769.90" y="1189.10" width="2.05" height="2.05" fill="#111" />
<rect x="771.90" y="1189.10" width="2.05" height="2.05" fill="#111" />
<rect x="775.90" y="1189.10" width="2.05" height="2.05" fill="#111" />
<rect x="779.90" y="1189.10" width="2.05" height="2.05" fill="#111" />
<rect x="781.90" y="1189.10" width="2.05" height="2.05" fill="#111" />
<rect x="789.90" y="1189.10" width="2.05" height="2.05" fill="#111" />
<circle cx="407" cy="1180.5" r="15.6" fill="#51625f"/><circle cx="407" cy="1180.5" r="15" fill="#ffffff"/></svg>
<div class="t th" style="left:228.85px;top:8.60px;font-size:26.25px;font-weight:600;color:#ffffff;transform:scaleX(0.786)">ผลกระทบต่อการเข้าใช้บริการทางการแพทย์</div>
<div class="t th" style="left:60.61px;top:66.24px;font-size:16.07px;font-weight:600;color:#ffffff;transform:scaleX(0.717)">การเข้าพบแพทย์แบบคนไข้ภายนอก</div>
<div class="t th" style="left:416.26px;top:54.54px;font-size:16.07px;font-weight:600;color:#3c1d0c;transform:scaleX(0.874)">การระบาดรอบที่ 1</div>
<div class="t th" style="left:418.12px;top:78.61px;font-size:12.68px;font-weight:600;color:#3c1d0c;transform:scaleX(0.942)">(มี.ค. 63 - พ.ค. 63)</div>
<div class="t th" style="left:613.16px;top:55.64px;font-size:16.07px;font-weight:600;color:#ffffff;transform:scaleX(0.867)">การระบาดรอบที่ 2</div>
<div class="t th" style="left:608.28px;top:79.36px;font-size:12.68px;font-weight:600;color:#ffffff;transform:scaleX(0.933)">(ธ.ค. 63 - 20 มี.ค. 64)</div>
<div class="t th" style="left:264.40px;top:103.71px;font-size:15.36px;font-weight:600;color:#ffffff;transform:scaleX(0.770)">ไม่ได้นัดหมาย</div>
<div class="t th" style="left:263.55px;top:134.71px;font-size:15.36px;font-weight:600;color:#ffffff;transform:scaleX(0.789)">นัดหมาย</div>
<div class="t thi" style="left:303.95px;top:154.71px;font-size:15.36px;font-weight:600;color:#ffffff;transform:scaleX(0.762)">- ไม่เลื่อน</div>
<div class="t thi" style="left:303.93px;top:173.71px;font-size:15.36px;font-weight:600;color:#ffffff;transform:scaleX(0.771)">- เลื่อน</div>
<div class="t th" style="left:121.47px;top:207.64px;font-size:14.82px;font-weight:600;color:#ffffff;transform:scaleX(0.870)">ทำฟัน</div>
<div class="t th" style="left:264.40px;top:206.71px;font-size:15.36px;font-weight:600;color:#ffffff;transform:scaleX(0.770)">ไม่ได้นัดหมาย</div>
<div class="t th" style="left:263.55px;top:237.11px;font-size:15.36px;font-weight:600;color:#ffffff;transform:scaleX(0.789)">นัดหมาย</div>
<div class="t thi" style="left:304.55px;top:256.31px;font-size:15.36px;font-weight:600;color:#ffffff;transform:scaleX(0.761)">- ไม่เลื่อน</div>
<div class="t thi" style="left:304.56px;top:275.11px;font-size:15.36px;font-weight:600;color:#ffffff;transform:scaleX(0.756)">- เลื่อน</div>
<div class="t num" style="left:461.84px;top:101.94px;font-size:18.75px;font-weight:700;color:#ffffff;transform:scaleX(0.862)">76.03%</div>
<div class="t num" style="left:462.18px;top:132.95px;font-size:17.36px;font-weight:700;color:#ffffff;transform:scaleX(0.927)">23.97%</div>
<div class="t numi" style="left:407.38px;top:154.36px;font-size:13.89px;font-weight:400;color:#dcdcdc;transform:scaleX(1.229)">72.70%</div>
<div class="t numi" style="left:408.42px;top:174.86px;font-size:13.89px;font-weight:400;color:#dcdcdc;transform:scaleX(1.192)">27.30%</div>
<div class="t num" style="left:460.17px;top:204.70px;font-size:17.36px;font-weight:700;color:#ffffff;transform:scaleX(0.953)">93.46%</div>
<div class="t num" style="left:462.51px;top:235.95px;font-size:17.36px;font-weight:700;color:#ffffff;transform:scaleX(0.935)">6.54%</div>
<div class="t numi" style="left:406.67px;top:255.86px;font-size:13.89px;font-weight:400;color:#dcdcdc;transform:scaleX(1.195)">75.58%</div>
<div class="t numi" style="left:407.68px;top:275.86px;font-size:13.89px;font-weight:400;color:#dcdcdc;transform:scaleX(1.151)">24.42%</div>
<div class="t num" style="left:653.59px;top:103.82px;font-size:18.06px;font-weight:700;color:#ffffff;transform:scaleX(0.886)">75.19%</div>
<div class="t num" style="left:654.16px;top:135.33px;font-size:16.67px;font-weight:700;color:#ffffff;transform:scaleX(1.008)">24.81%</div>
<div class="t numi" style="left:599.61px;top:155.86px;font-size:13.89px;font-weight:400;color:#dcdcdc;transform:scaleX(1.275)">81.29%</div>
<div class="t numi" style="left:599.18px;top:176.99px;font-size:13.19px;font-weight:400;color:#dcdcdc;transform:scaleX(1.428)">18.71%</div>
<div class="t num" style="left:652.17px;top:204.57px;font-size:18.06px;font-weight:700;color:#ffffff;transform:scaleX(0.908)">93.23%</div>
<div class="t num" style="left:655.76px;top:236.57px;font-size:18.06px;font-weight:700;color:#ffffff;transform:scaleX(0.906)">6.77%</div>
<div class="t numi" style="left:599.17px;top:257.36px;font-size:13.89px;font-weight:400;color:#dcdcdc;transform:scaleX(1.200)">73.03%</div>
<div class="t numi" style="left:600.17px;top:277.86px;font-size:13.89px;font-weight:400;color:#dcdcdc;transform:scaleX(1.205)">26.97%</div>
<div class="t th" style="left:45.72px;top:333.32px;font-size:25.54px;font-weight:600;color:#ffffff;transform:scaleX(0.821)">ผลกระทบต่อการทำงาน</div>
<div class="t th" style="left:481.39px;top:307.32px;font-size:26.79px;font-weight:600;color:#ffffff;transform:scaleX(0.831)">อาชีพ</div>
<div class="t th" style="left:285.23px;top:345.29px;font-size:13.39px;font-weight:600;color:#ffffff;transform:scaleX(0.843)">เกษตรกร/ประมง</div>
<div class="t th" style="left:402.53px;top:345.59px;font-size:13.39px;font-weight:600;color:#ffffff;transform:scaleX(0.889)">เจ้าของธุรกิจส่วนตัว</div>
<div class="t th" style="left:420.07px;top:363.49px;font-size:13.39px;font-weight:600;color:#ffffff;transform:scaleX(0.952)">/อาชีพอิสระ</div>
<div class="t th" style="left:536.86px;top:345.19px;font-size:13.39px;font-weight:600;color:#ffffff;transform:scaleX(0.878)">ทำงานที่มีนายจ้าง</div>
<div class="t th" style="left:654.00px;top:345.19px;font-size:13.39px;font-weight:600;color:#ffffff;transform:scaleX(0.898)">ข้าราชการ/ลูกจ้าง/</div>
<div class="t th" style="left:652.63px;top:363.49px;font-size:13.39px;font-weight:600;color:#ffffff;transform:scaleX(0.885)">พนักงานรัฐวิสาหกิจ</div>
<div class="t th" style="left:82.21px;top:402.81px;font-size:14.11px;font-weight:600;color:#ffffff;transform:scaleX(0.830)">ตกงาน/ว่างงาน</div>
<div class="t th" style="left:82.33px;top:435.01px;font-size:14.11px;font-weight:600;color:#ffffff;transform:scaleX(0.835)">วัน เวลา ทำงาน/รายได้ลดลง</div>
<div class="t th" style="left:82.33px;top:465.81px;font-size:14.11px;font-weight:600;color:#ffffff;transform:scaleX(0.831)">วัน เวลา ทำงาน/รายได้เพิ่มขึ้น</div>
<div class="t num" style="left:296.41px;top:431.38px;font-size:16.94px;font-weight:700;color:#ffffff;transform:scaleX(0.971)">60.97%</div>
<div class="t num" style="left:299.02px;top:461.95px;font-size:17.08px;font-weight:700;color:#ffffff;transform:scaleX(0.929)">0.74%</div>
<div class="t num" style="left:432.88px;top:400.79px;font-size:16.39px;font-weight:700;color:#ffffff;transform:scaleX(0.981)">3.59%</div>
<div class="t num" style="left:430.10px;top:431.38px;font-size:16.94px;font-weight:700;color:#ffffff;transform:scaleX(0.993)">83.01%</div>
<div class="t num" style="left:432.42px;top:461.95px;font-size:17.08px;font-weight:700;color:#ffffff;transform:scaleX(0.930)">0.98%</div>
<div class="t num" style="left:559.04px;top:400.47px;font-size:15.97px;font-weight:700;color:#ffffff;transform:scaleX(1.014)">4.44%</div>
<div class="t num" style="left:557.12px;top:430.98px;font-size:16.94px;font-weight:700;color:#ffffff;transform:scaleX(0.944)">66.89%</div>
<div class="t num" style="left:559.32px;top:461.48px;font-size:16.94px;font-weight:700;color:#ffffff;transform:scaleX(0.944)">0.68%</div>
<div class="t num" style="left:679.44px;top:430.98px;font-size:16.94px;font-weight:700;color:#ffffff;transform:scaleX(0.969)">12.87%</div>
<div class="t th" style="left:196.37px;top:501.94px;font-size:25.89px;font-weight:600;color:#ffffff;transform:scaleX(0.788)">ผลกระทบต่อการเกื้อกูลทางเศรษฐกิจในครอบครัว</div>
<div class="t num sh" style="left:213.75px;top:539.90px;font-size:17.36px;font-weight:700;color:#ffffff;transform:scaleX(0.964)">82.04%</div>
<div class="t num sh" style="left:266.24px;top:625.33px;font-size:17.22px;font-weight:700;color:#ffffff;transform:scaleX(0.955)">13.62%</div>
<div class="t num sh" style="left:168.84px;top:652.83px;font-size:16.67px;font-weight:700;color:#ffffff;transform:scaleX(0.949)">4.34%</div>
<div class="t num sh" style="left:470.26px;top:535.08px;font-size:16.67px;font-weight:700;color:#ffffff;transform:scaleX(0.986)">82.19%</div>
<div class="t num sh" style="left:422.91px;top:636.78px;font-size:16.94px;font-weight:700;color:#ffffff;transform:scaleX(0.969)">8.29%</div>
<div class="t num sh" style="left:520.67px;top:632.08px;font-size:16.94px;font-weight:700;color:#ffffff;transform:scaleX(0.962)">9.52%</div>
<div class="t th" style="left:159.45px;top:691.86px;font-size:16.43px;font-weight:600;color:#ffffff;transform:scaleX(0.697)">ได้รับเงินที่ลูกหลานส่งมาช่วยเหลือ</div>
<div class="t th" style="left:427.94px;top:692.24px;font-size:16.07px;font-weight:600;color:#ffffff;transform:scaleX(0.720)">ส่งเงินช่วยเหลือให้ลูกหลาน</div>
<div class="t th" style="left:706.61px;top:578.00px;font-size:15.00px;font-weight:600;color:#ffffff;transform:scaleX(0.772)">เพิ่มขึ้น</div>
<div class="t th" style="left:707.65px;top:613.70px;font-size:15.00px;font-weight:600;color:#ffffff;transform:scaleX(0.725)">ไม่เปลี่ยนแปลง</div>
<div class="t th" style="left:707.19px;top:644.91px;font-size:15.36px;font-weight:600;color:#ffffff;transform:scaleX(0.745)">ลดลง</div>
<div class="t th" style="left:270.62px;top:718.79px;font-size:25.89px;font-weight:600;color:#ffffff;transform:scaleX(0.788)">ผลกระทบต่อกิจกรรมทางสังคม</div>
<div class="t num" style="left:72.14px;top:810.83px;font-size:16.67px;font-weight:700;color:#ffffff;transform:scaleX(0.981)">45.51%</div>
<div class="t num" style="left:127.00px;top:828.08px;font-size:16.67px;font-weight:700;color:#ffffff;transform:scaleX(0.994)">52.59%</div>
<div class="t num sh" style="left:65.79px;top:888.34px;font-size:16.11px;font-weight:700;color:#ffffff;transform:scaleX(1.000)">1.90%</div>
<div class="t num" style="left:212.93px;top:802.34px;font-size:16.11px;font-weight:700;color:#ffffff;transform:scaleX(1.025)">47.41%</div>
<div class="t num" style="left:277.41px;top:825.98px;font-size:16.94px;font-weight:700;color:#ffffff;transform:scaleX(0.962)">50.23%</div>
<div class="t num sh" style="left:184.58px;top:891.46px;font-size:16.25px;font-weight:700;color:#ffffff;transform:scaleX(0.975)">2.36%</div>
<div class="t num" style="left:369.08px;top:804.21px;font-size:16.25px;font-weight:700;color:#ffffff;transform:scaleX(1.034)">41.93%</div>
<div class="t num" style="left:435.26px;top:827.81px;font-size:16.25px;font-weight:700;color:#ffffff;transform:scaleX(1.001)">55.33%</div>
<div class="t num sh" style="left:350.69px;top:891.59px;font-size:16.39px;font-weight:700;color:#ffffff;transform:scaleX(0.945)">2.74%</div>
<div class="t num" style="left:516.44px;top:804.21px;font-size:16.25px;font-weight:700;color:#ffffff;transform:scaleX(0.985)">40.94%</div>
<div class="t num" style="left:577.41px;top:827.81px;font-size:16.25px;font-weight:700;color:#ffffff;transform:scaleX(1.007)">56.62%</div>
<div class="t num sh" style="left:499.97px;top:888.79px;font-size:16.39px;font-weight:700;color:#ffffff;transform:scaleX(1.003)">2.44%</div>
<div class="t th" style="left:69.07px;top:929.77px;font-size:14.29px;font-weight:600;color:#ffffff;transform:scaleX(0.798)">การไปเยี่ยมเยียนญาติ/</div>
<div class="t th" style="left:74.70px;top:947.32px;font-size:14.29px;font-weight:600;color:#ffffff;transform:scaleX(0.816)">เพื่อน/คนรู้จักที่บ้าน</div>
<div class="t th" style="left:195.49px;top:930.17px;font-size:14.29px;font-weight:600;color:#ffffff;transform:scaleX(0.833)">การมาเยี่ยมเยียนจากลูกหลาน</div>
<div class="t th" style="left:188.23px;top:947.47px;font-size:14.29px;font-weight:600;color:#ffffff;transform:scaleX(0.822)">(การพบปะ/เจอหน้า/ร่วมกิจกรรม)</div>
<div class="t th" style="left:362.73px;top:929.97px;font-size:14.29px;font-weight:600;color:#ffffff;transform:scaleX(0.827)">จำนวนครั้งที่ออกนอกบ้าน</div>
<div class="t th" style="left:515.72px;top:929.97px;font-size:14.29px;font-weight:600;color:#ffffff;transform:scaleX(0.835)">ระยะเวลาที่อยู่นอกบ้าน</div>
<div class="t th" style="left:707.70px;top:795.00px;font-size:15.00px;font-weight:600;color:#ffffff;transform:scaleX(0.781)">เพิ่มขึ้น</div>
<div class="t th" style="left:708.75px;top:829.50px;font-size:15.00px;font-weight:600;color:#ffffff;transform:scaleX(0.725)">ไม่เปลี่ยนแปลง</div>
<div class="t th" style="left:708.29px;top:860.71px;font-size:15.36px;font-weight:600;color:#ffffff;transform:scaleX(0.750)">ลดลง</div>
<div class="t th" style="left:288.09px;top:973.29px;font-size:25.89px;font-weight:600;color:#ffffff;transform:scaleX(0.775)">ความคิดเห็นของผู้สูงวัยไทย</div>
<div class="t th" style="left:177.62px;top:1008.71px;font-size:15.36px;font-weight:600;color:#ffffff;transform:scaleX(1.022)">ต่อมาตรการในการควบคุมการแพร่ระบาดของเชื้อ COVID-19 ของรัฐ</div>
<div class="t num sh" style="left:143.84px;top:1057.65px;font-size:22.92px;font-weight:700;color:#ffffff;transform:scaleX(0.965)">82.04%</div>
<div class="t th" style="left:142.48px;top:1089.14px;font-size:13.57px;font-weight:600;color:#ffffff;transform:scaleX(0.835)">เหมาะสมแล้ว</div>
<div class="t num sh" style="left:286.58px;top:1043.33px;font-size:21.94px;font-weight:700;color:#ffffff;transform:scaleX(0.996)">14.23%</div>
<div class="t th" style="left:264.83px;top:1075.27px;font-size:14.29px;font-weight:600;color:#ffffff;transform:scaleX(0.785)">ยังเข้มงวดไม่เพียงพอ</div>
<div class="t num sh" style="left:433.68px;top:1076.68px;font-size:22.22px;font-weight:700;color:#ffffff;transform:scaleX(0.943)">3.27%</div>
<div class="t th" style="left:409.86px;top:1106.54px;font-size:13.57px;font-weight:600;color:#ffffff;transform:scaleX(0.848)">เข้มงวดมากเกินไป</div>
<div class="t num sh" style="left:580.26px;top:1047.18px;font-size:21.67px;font-weight:700;color:#ffffff;transform:scaleX(0.977)">0.46%</div>
<div class="t th" style="left:547.00px;top:1077.61px;font-size:13.93px;font-weight:600;color:#ffffff;transform:scaleX(0.811)">ไม่ทราบ/ไม่ตอบ/ไม่สนใจ</div>
<div class="t th" style="left:140.88px;top:1142.50px;font-size:12.50px;font-weight:600;color:#ececec;transform:scaleX(0.822)">ถูกต้อง</div>
<div class="t th" style="left:140.62px;top:1163.29px;font-size:12.14px;font-weight:600;color:#ececec;transform:scaleX(0.801)">เที่ยงตรง</div>
<div class="t th" style="left:140.97px;top:1180.79px;font-size:12.14px;font-weight:600;color:#ececec;transform:scaleX(0.873)">ด้วยคุณภาพตามหลักวิชาการ</div>
<div class="t lat" style="left:558.37px;top:1141.85px;font-size:11.94px;font-weight:400;color:#fafafa;transform:scaleX(1.050)">Tel : 02 727 3594-6 Fax : 02 727 3595</div>
<div class="t lat" style="left:597.71px;top:1160.25px;font-size:11.67px;font-weight:400;color:#fafafa;transform:scaleX(1.119)">email : nida_poll@nida.ac.th</div>
<div class="t lat" style="left:618.37px;top:1178.75px;font-size:11.67px;font-weight:400;color:#fafafa;transform:scaleX(1.139)">www.nidapoll.nida.ac.th</div>
<div class="t num" style="left:401.87px;top:1169.17px;font-size:20.14px;font-weight:600;color:#111111;transform:scaleX(1.045)">2</div>
<div class="t ser" style="left:40.64px;top:1148.45px;font-size:19.70px;font-weight:700;color:#ffffff;transform:scaleX(0.924)">NIDA Poll</div>
<div class="t th" style="left:9.50px;top:1175.57px;font-size:14.29px;font-weight:700;color:#1b2266;transform:scaleX(0.722)">โพลแห่งแรกในประเทศไทย</div>
</body></html>
